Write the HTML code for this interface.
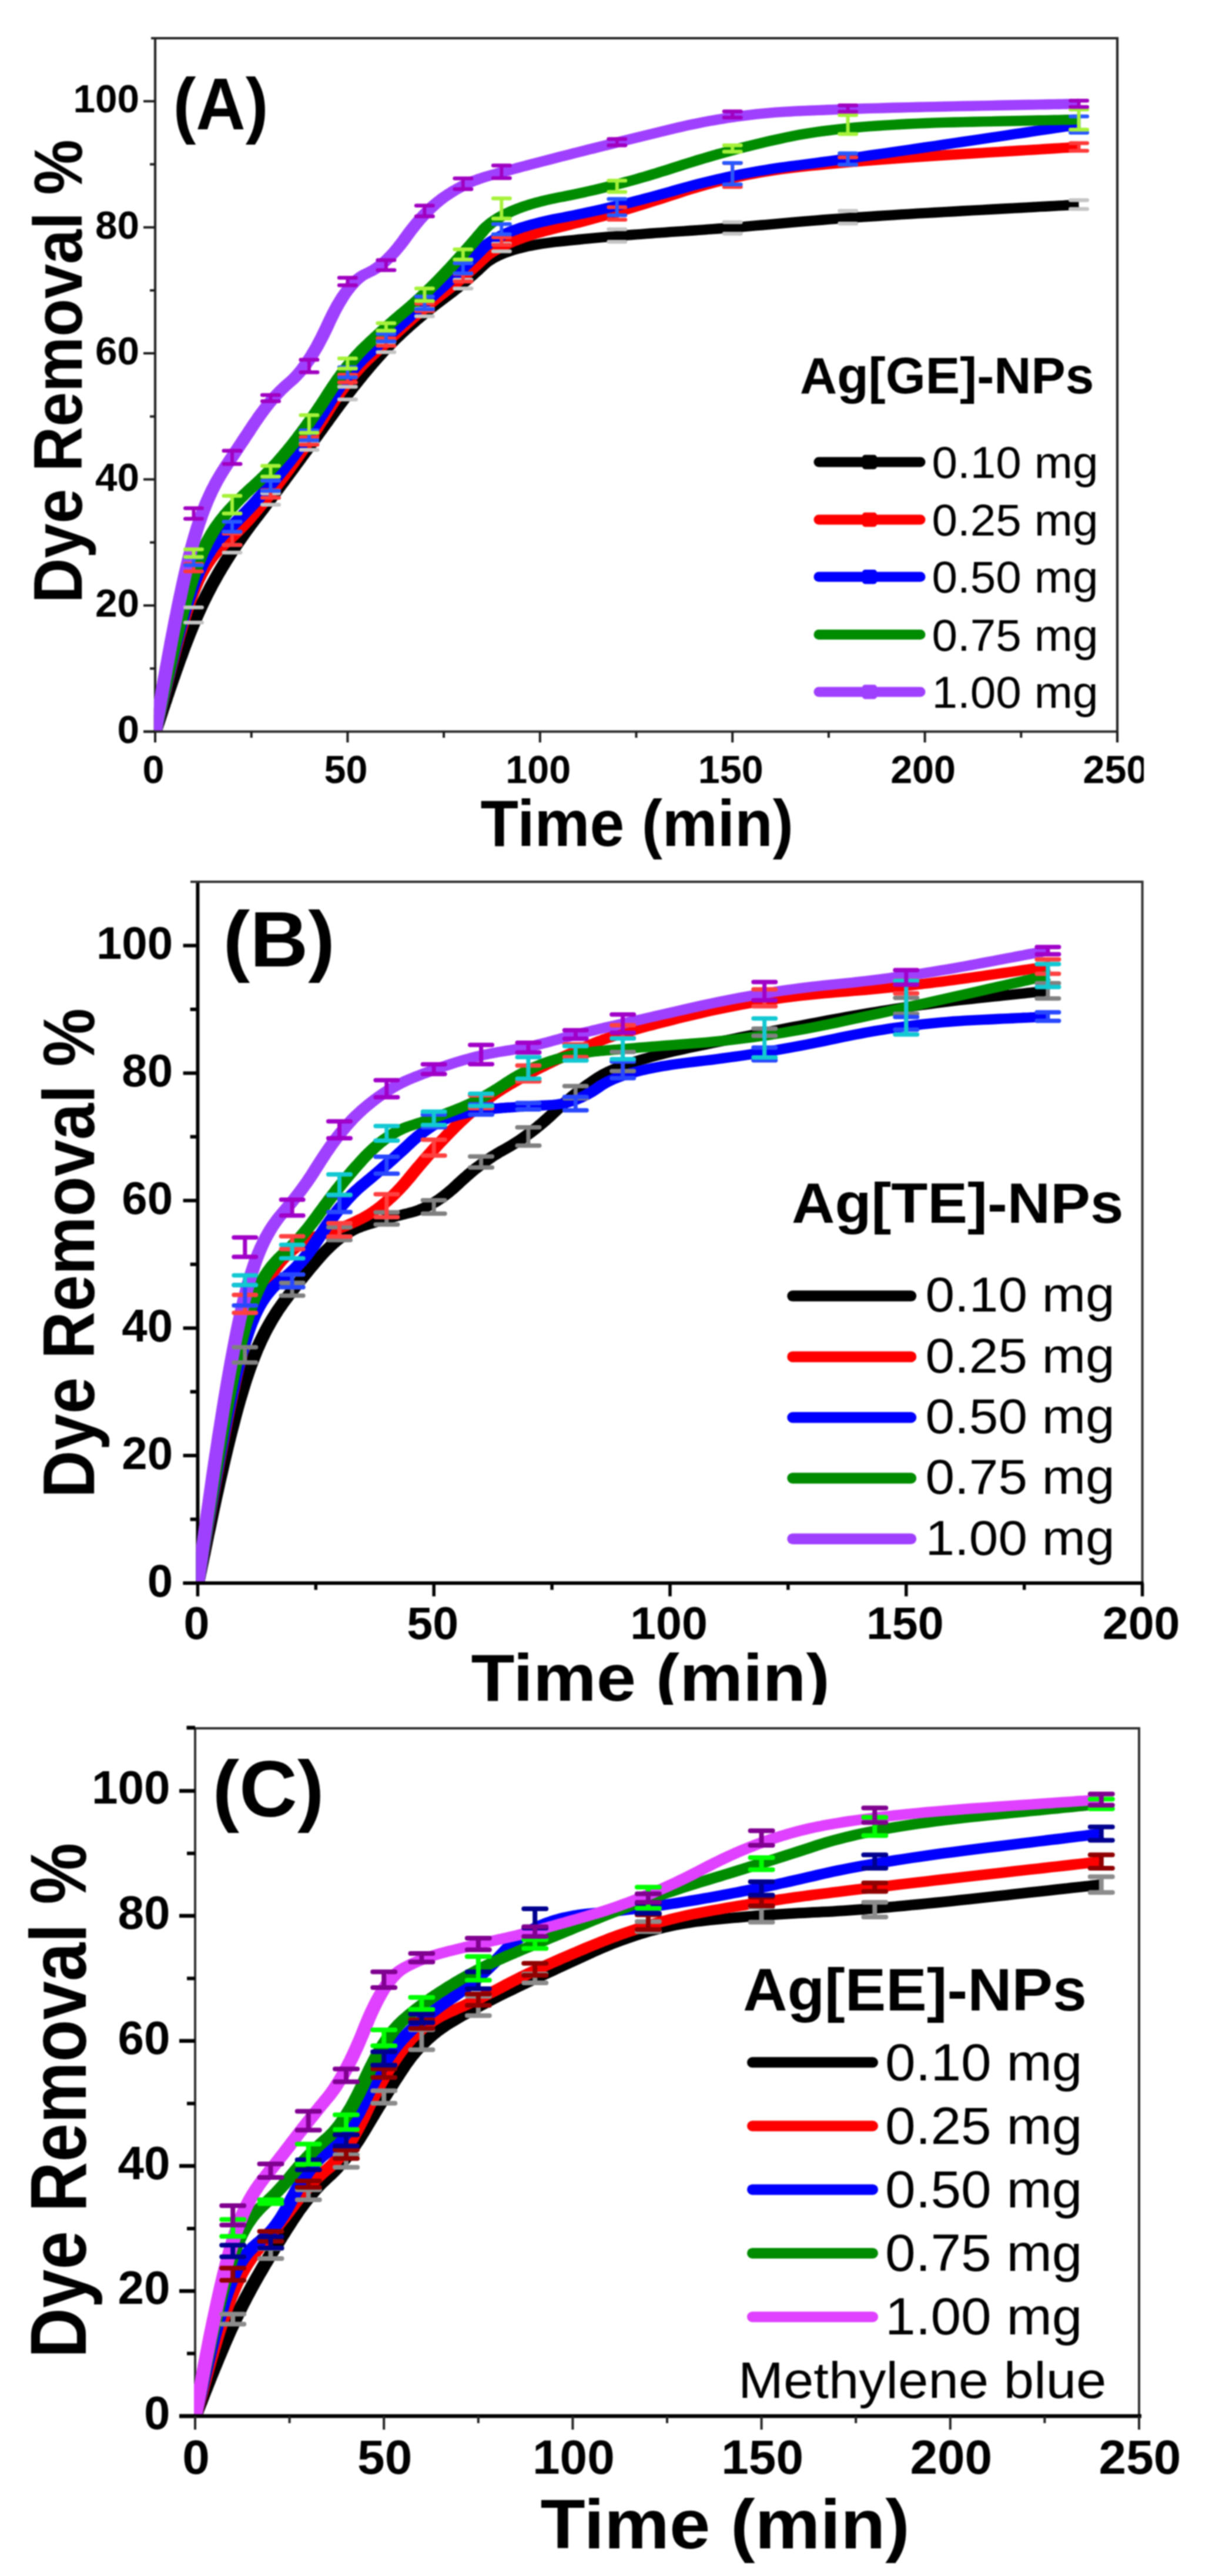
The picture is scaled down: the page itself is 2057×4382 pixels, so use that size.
<!DOCTYPE html>
<html lang="en">
<head>
<meta charset="utf-8">
<title>Dye removal kinetics</title>
<style>
html,body{margin:0;padding:0;background:#fff;}
body{width:2057px;height:4382px;overflow:hidden;}
svg{display:block;font-family:"Liberation Sans",Arial,Helvetica,sans-serif;}
</style>
</head>
<body>
<svg width="2057" height="4382" viewBox="0 0 2057 4382">
<defs>
<filter id="soft" filterUnits="userSpaceOnUse" x="0" y="0" width="2057" height="4382" color-interpolation-filters="sRGB"><feGaussianBlur stdDeviation="1"/></filter>
<clipPath id="clipA"><rect x="0" y="0" width="1945.5" height="1500"/></clipPath>
<clipPath id="plotA"><rect x="261.9" y="65" width="1639.1" height="1179.5"/></clipPath>
<clipPath id="plotB"><rect x="333.4" y="1500" width="1610.2" height="1193"/></clipPath>
<clipPath id="plotC"><rect x="330" y="2940" width="1608" height="1170"/></clipPath>
<clipPath id="clipB"><rect x="0" y="1480" width="2057" height="1420"/></clipPath>
</defs>
<rect x="0" y="0" width="2057" height="4382" fill="#fff"/>
<g filter="url(#soft)">
<g id="panelA">
<path d="M264,65V1244.5" fill="none" stroke="#262626" stroke-width="4.2"/>
<g clip-path="url(#plotA)">
<path transform="scale(1.32,1)" d="M200.0,1244.5 L200.0,1244.5 L200.0,1244.5 L200.0,1244.4 L200.0,1244.3 L200.1,1244.2 L200.1,1244.0 L200.2,1243.7 L200.3,1243.3 L200.4,1242.8 L200.6,1242.1 L200.8,1241.3 L201.0,1240.4 L201.3,1239.2 L201.6,1237.9 L202.0,1236.4 L202.4,1234.7 L202.9,1232.7 L203.5,1230.6 L204.1,1228.1 L204.8,1225.4 L205.5,1222.4 L206.4,1219.0 L207.3,1215.4 L208.3,1211.4 L209.3,1207.1 L210.5,1202.5 L211.7,1197.6 L213.1,1192.4 L214.4,1186.9 L215.9,1181.2 L217.4,1175.2 L219.0,1169.1 L220.6,1162.8 L222.3,1156.3 L224.1,1149.7 L225.8,1143.0 L227.7,1136.1 L229.5,1129.2 L231.4,1122.3 L233.4,1115.3 L235.3,1108.2 L237.3,1101.2 L239.3,1094.3 L241.4,1087.3 L243.4,1080.4 L245.5,1073.7 L247.5,1067.0 L249.6,1060.4 L251.7,1054.0 L253.7,1047.8 L255.8,1041.6 L257.9,1035.7 L259.9,1029.8 L262.0,1024.1 L264.1,1018.5 L266.1,1013.0 L268.2,1007.6 L270.3,1002.4 L272.3,997.2 L274.4,992.2 L276.5,987.3 L278.5,982.4 L280.6,977.6 L282.7,972.9 L284.7,968.3 L286.8,963.8 L288.9,959.3 L290.9,954.9 L293.0,950.6 L295.1,946.3 L297.1,942.1 L299.2,937.9 L301.3,933.8 L303.3,929.7 L305.4,925.6 L307.5,921.6 L309.5,917.7 L311.6,913.8 L313.7,909.9 L315.7,906.1 L317.8,902.3 L319.9,898.6 L321.9,894.9 L324.0,891.3 L326.1,887.7 L328.1,884.2 L330.2,880.6 L332.3,877.0 L334.3,873.4 L336.4,869.9 L338.5,866.3 L340.6,862.7 L342.6,859.1 L344.7,855.5 L346.8,851.9 L348.8,848.3 L350.9,844.7 L353.0,841.0 L355.0,837.4 L357.1,833.8 L359.2,830.1 L361.2,826.4 L363.3,822.8 L365.4,819.1 L367.4,815.4 L369.5,811.7 L371.6,808.0 L373.6,804.3 L375.7,800.6 L377.8,796.9 L379.8,793.2 L381.9,789.5 L384.0,785.7 L386.0,782.0 L388.1,778.3 L390.2,774.5 L392.2,770.8 L394.3,767.1 L396.4,763.3 L398.4,759.6 L400.5,755.8 L402.6,752.1 L404.6,748.3 L406.7,744.5 L408.8,740.8 L410.8,737.0 L412.9,733.2 L415.0,729.4 L417.0,725.6 L419.1,721.8 L421.2,718.1 L423.2,714.3 L425.3,710.5 L427.4,706.7 L429.4,703.0 L431.5,699.2 L433.6,695.6 L435.6,691.9 L437.7,688.2 L439.8,684.6 L441.8,681.0 L443.9,677.4 L446.0,673.8 L448.0,670.3 L450.1,666.8 L452.2,663.3 L454.2,659.8 L456.3,656.4 L458.4,652.9 L460.4,649.5 L462.5,646.1 L464.6,642.8 L466.6,639.4 L468.7,636.1 L470.8,632.8 L472.8,629.6 L474.9,626.3 L477.0,623.1 L479.0,619.9 L481.1,616.8 L483.2,613.7 L485.2,610.6 L487.3,607.5 L489.4,604.5 L491.4,601.6 L493.5,598.6 L495.6,595.7 L497.6,592.8 L499.7,590.0 L501.8,587.2 L503.8,584.4 L505.9,581.7 L508.0,578.9 L510.0,576.3 L512.1,573.6 L514.2,571.0 L516.2,568.4 L518.3,565.9 L520.4,563.4 L522.4,560.9 L524.5,558.5 L526.6,556.0 L528.6,553.6 L530.7,551.2 L532.8,548.9 L534.8,546.5 L536.9,544.2 L539.0,541.9 L541.0,539.6 L543.1,537.3 L545.2,535.0 L547.2,532.8 L549.3,530.6 L551.4,528.3 L553.4,526.2 L555.5,524.0 L557.6,521.8 L559.6,519.7 L561.7,517.6 L563.8,515.5 L565.8,513.4 L567.9,511.4 L570.0,509.3 L572.0,507.3 L574.1,505.3 L576.2,503.2 L578.2,501.2 L580.3,499.1 L582.4,497.0 L584.4,494.8 L586.5,492.6 L588.6,490.5 L590.6,488.2 L592.7,486.0 L594.8,483.7 L596.8,481.4 L598.9,479.1 L601.0,476.8 L603.0,474.4 L605.1,472.0 L607.2,469.6 L609.2,467.2 L611.3,464.7 L613.4,462.3 L615.5,459.8 L617.5,457.2 L619.6,454.7 L621.7,452.1 L623.8,449.5 L626.1,447.1 L628.6,444.6 L631.3,442.3 L634.1,440.0 L637.2,437.8 L640.3,435.7 L643.7,433.7 L647.2,431.7 L650.9,429.8 L654.8,428.0 L658.9,426.2 L663.1,424.5 L667.5,422.9 L672.0,421.4 L676.8,419.9 L681.7,418.5 L686.8,417.2 L692.0,416.0 L697.4,414.8 L703.0,413.7 L708.8,412.7 L714.7,411.7 L720.9,410.8 L727.1,410.0 L733.3,409.1 L739.5,408.3 L745.7,407.5 L751.9,406.7 L758.1,405.9 L764.3,405.2 L770.5,404.4 L776.7,403.7 L782.9,403.0 L789.1,402.3 L795.3,401.6 L801.5,400.9 L807.7,400.2 L813.9,399.5 L820.1,398.9 L826.3,398.3 L832.5,397.6 L838.7,397.0 L844.9,396.4 L851.1,395.9 L857.3,395.3 L863.5,394.7 L869.7,394.2 L875.9,393.6 L882.1,393.1 L888.3,392.5 L894.5,392.0 L900.7,391.4 L906.9,390.8 L913.1,390.2 L919.3,389.6 L925.5,389.0 L931.7,388.4 L937.9,387.7 L944.1,387.1 L950.3,386.4 L956.5,385.8 L962.7,385.1 L968.9,384.4 L975.1,383.7 L981.3,383.0 L987.5,382.3 L993.7,381.6 L999.9,380.9 L1006.1,380.1 L1012.3,379.4 L1018.5,378.6 L1024.8,377.9 L1031.4,377.1 L1038.3,376.3 L1045.4,375.6 L1052.7,374.8 L1060.4,374.0 L1068.2,373.2 L1076.4,372.4 L1084.8,371.6 L1093.4,370.8 L1102.3,369.9 L1111.5,369.1 L1120.9,368.3 L1130.6,367.5 L1140.6,366.6 L1150.8,365.8 L1161.2,364.9 L1172.0,364.1 L1182.9,363.2 L1194.2,362.3 L1205.7,361.5 L1217.4,360.6 L1229.5,359.7 L1241.7,358.8 L1253.9,357.9 L1265.5,357.1 L1276.6,356.3 L1287.2,355.5 L1297.3,354.8 L1306.8,354.1 L1315.9,353.5 L1324.4,352.8 L1332.4,352.3 L1339.9,351.7 L1346.9,351.2 L1353.3,350.8 L1359.3,350.3 L1364.7,349.9 L1369.6,349.6 L1374.0,349.3 L1377.9,349.0 L1381.2,348.8 L1384.1,348.5 L1386.4,348.4 L1388.2,348.2 L1389.5,348.2 L1390.3,348.1 L1390.5,348.1" fill="none" stroke="#000000" stroke-width="17.4" stroke-linejoin="round" stroke-linecap="butt"/>
<path transform="scale(1.32,1)" d="M200.0,1244.5 L200.0,1244.5 L200.0,1244.5 L200.0,1244.4 L200.0,1244.3 L200.1,1244.1 L200.1,1243.8 L200.2,1243.3 L200.3,1242.8 L200.4,1242.0 L200.6,1241.1 L200.8,1240.0 L201.0,1238.7 L201.3,1237.1 L201.6,1235.3 L202.0,1233.2 L202.4,1230.7 L202.9,1228.0 L203.5,1224.9 L204.1,1221.4 L204.8,1217.6 L205.5,1213.4 L206.4,1208.7 L207.3,1203.6 L208.3,1198.0 L209.3,1192.0 L210.5,1185.5 L211.7,1178.6 L213.1,1171.3 L214.4,1163.7 L215.9,1155.8 L217.4,1147.6 L219.0,1139.2 L220.6,1130.6 L222.3,1121.9 L224.1,1113.0 L225.8,1104.1 L227.7,1095.1 L229.5,1086.1 L231.4,1077.2 L233.4,1068.3 L235.3,1059.5 L237.3,1050.9 L239.3,1042.4 L241.4,1034.2 L243.4,1026.2 L245.5,1018.5 L247.5,1011.1 L249.6,1004.1 L251.7,997.5 L253.7,991.3 L255.8,985.4 L257.9,979.9 L259.9,974.7 L262.0,969.8 L264.1,965.2 L266.1,960.8 L268.2,956.7 L270.3,952.9 L272.3,949.2 L274.4,945.8 L276.5,942.5 L278.5,939.4 L280.6,936.4 L282.7,933.5 L284.7,930.8 L286.8,928.1 L288.9,925.5 L290.9,923.0 L293.0,920.5 L295.1,918.0 L297.1,915.5 L299.2,912.9 L301.3,910.4 L303.3,907.7 L305.4,905.0 L307.5,902.3 L309.5,899.5 L311.6,896.7 L313.7,893.8 L315.7,890.9 L317.8,887.9 L319.9,884.8 L321.9,881.8 L324.0,878.6 L326.1,875.4 L328.1,872.2 L330.2,869.0 L332.3,865.7 L334.3,862.4 L336.4,859.1 L338.5,855.8 L340.6,852.4 L342.6,849.0 L344.7,845.6 L346.8,842.1 L348.8,838.6 L350.9,835.1 L353.0,831.6 L355.0,828.1 L357.1,824.5 L359.2,820.9 L361.2,817.3 L363.3,813.7 L365.4,810.1 L367.4,806.4 L369.5,802.7 L371.6,799.0 L373.6,795.2 L375.7,791.5 L377.8,787.7 L379.8,783.8 L381.9,780.0 L384.0,776.1 L386.0,772.2 L388.1,768.3 L390.2,764.3 L392.2,760.3 L394.3,756.3 L396.4,752.2 L398.4,748.2 L400.5,744.1 L402.6,739.9 L404.6,735.8 L406.7,731.6 L408.8,727.4 L410.8,723.1 L412.9,718.9 L415.0,714.6 L417.0,710.2 L419.1,705.9 L421.2,701.5 L423.2,697.1 L425.3,692.7 L427.4,688.4 L429.4,684.2 L431.5,680.0 L433.6,675.9 L435.6,671.9 L437.7,668.0 L439.8,664.2 L441.8,660.4 L443.9,656.7 L446.0,653.1 L448.0,649.5 L450.1,646.1 L452.2,642.7 L454.2,639.3 L456.3,636.1 L458.4,632.9 L460.4,629.9 L462.5,626.8 L464.6,623.9 L466.6,621.0 L468.7,618.3 L470.8,615.6 L472.8,612.9 L474.9,610.3 L477.0,607.8 L479.0,605.2 L481.1,602.6 L483.2,600.0 L485.2,597.5 L487.3,594.9 L489.4,592.4 L491.4,589.8 L493.5,587.3 L495.6,584.8 L497.6,582.2 L499.7,579.7 L501.8,577.2 L503.8,574.7 L505.9,572.2 L508.0,569.7 L510.0,567.2 L512.1,564.7 L514.2,562.2 L516.2,559.7 L518.3,557.3 L520.4,554.8 L522.4,552.3 L524.5,549.9 L526.6,547.5 L528.6,545.0 L530.7,542.6 L532.8,540.2 L534.8,537.9 L536.9,535.5 L539.0,533.2 L541.0,530.8 L543.1,528.5 L545.2,526.2 L547.2,523.9 L549.3,521.7 L551.4,519.4 L553.4,517.2 L555.5,514.9 L557.6,512.7 L559.6,510.5 L561.7,508.3 L563.8,506.2 L565.8,504.0 L567.9,501.9 L570.0,499.8 L572.0,497.7 L574.1,495.6 L576.2,493.4 L578.2,491.3 L580.3,489.1 L582.4,486.9 L584.4,484.7 L586.5,482.5 L588.6,480.2 L590.6,477.9 L592.7,475.6 L594.8,473.3 L596.8,471.0 L598.9,468.6 L601.0,466.3 L603.0,463.9 L605.1,461.4 L607.2,459.0 L609.2,456.5 L611.3,454.1 L613.4,451.6 L615.5,449.0 L617.5,446.5 L619.6,443.9 L621.7,441.4 L623.8,438.8 L626.1,436.2 L628.6,433.7 L631.3,431.2 L634.1,428.7 L637.2,426.3 L640.3,423.9 L643.7,421.5 L647.2,419.1 L650.9,416.8 L654.8,414.4 L658.9,412.1 L663.1,409.9 L667.5,407.6 L672.0,405.4 L676.8,403.2 L681.7,401.1 L686.8,398.9 L692.0,396.8 L697.4,394.8 L703.0,392.7 L708.8,390.7 L714.7,388.7 L720.9,386.7 L727.1,384.7 L733.3,382.7 L739.5,380.6 L745.7,378.6 L751.9,376.5 L758.1,374.3 L764.3,372.1 L770.5,369.9 L776.7,367.7 L782.9,365.4 L789.1,363.1 L795.3,360.8 L801.5,358.5 L807.7,356.1 L813.9,353.6 L820.1,351.2 L826.3,348.7 L832.5,346.2 L838.7,343.6 L844.9,341.0 L851.1,338.4 L857.3,335.8 L863.5,333.1 L869.7,330.4 L875.9,327.7 L882.1,325.1 L888.3,322.5 L894.5,320.1 L900.7,317.7 L906.9,315.3 L913.1,313.1 L919.3,310.9 L925.5,308.8 L931.7,306.8 L937.9,304.8 L944.1,302.9 L950.3,301.1 L956.5,299.3 L962.7,297.7 L968.9,296.1 L975.1,294.5 L981.3,293.1 L987.5,291.7 L993.7,290.4 L999.9,289.2 L1006.1,288.0 L1012.3,286.9 L1018.5,285.9 L1024.8,284.9 L1031.4,283.9 L1038.3,282.9 L1045.4,281.9 L1052.7,281.0 L1060.4,280.0 L1068.2,279.0 L1076.4,278.0 L1084.8,277.0 L1093.4,276.0 L1102.3,275.0 L1111.5,274.0 L1120.9,273.0 L1130.6,272.0 L1140.6,271.0 L1150.8,270.0 L1161.2,269.0 L1172.0,268.0 L1182.9,267.0 L1194.2,266.0 L1205.7,265.0 L1217.4,264.0 L1229.5,263.0 L1241.7,262.0 L1253.9,261.0 L1265.5,260.1 L1276.6,259.2 L1287.2,258.3 L1297.3,257.5 L1306.8,256.8 L1315.9,256.0 L1324.4,255.3 L1332.4,254.7 L1339.9,254.1 L1346.9,253.5 L1353.3,253.0 L1359.3,252.5 L1364.7,252.1 L1369.6,251.7 L1374.0,251.3 L1377.9,251.0 L1381.2,250.7 L1384.1,250.5 L1386.4,250.3 L1388.2,250.2 L1389.5,250.1 L1390.3,250.0 L1390.5,250.0" fill="none" stroke="#ff0000" stroke-width="17.4" stroke-linejoin="round" stroke-linecap="butt"/>
<path transform="scale(1.32,1)" d="M200.0,1244.5 L200.0,1244.5 L200.0,1244.5 L200.0,1244.4 L200.0,1244.3 L200.1,1244.1 L200.1,1243.7 L200.2,1243.3 L200.3,1242.7 L200.4,1242.0 L200.6,1241.0 L200.8,1239.9 L201.0,1238.5 L201.3,1236.8 L201.6,1234.9 L202.0,1232.7 L202.4,1230.2 L202.9,1227.4 L203.5,1224.1 L204.1,1220.6 L204.8,1216.6 L205.5,1212.2 L206.4,1207.3 L207.3,1202.0 L208.3,1196.2 L209.3,1190.0 L210.5,1183.2 L211.7,1176.1 L213.1,1168.5 L214.4,1160.6 L215.9,1152.4 L217.4,1143.9 L219.0,1135.1 L220.6,1126.2 L222.3,1117.1 L224.1,1107.8 L225.8,1098.5 L227.7,1089.1 L229.5,1079.8 L231.4,1070.4 L233.4,1061.1 L235.3,1051.9 L237.3,1042.8 L239.3,1033.9 L241.4,1025.3 L243.4,1016.8 L245.5,1008.7 L247.5,1000.9 L249.6,993.4 L251.7,986.3 L253.7,979.7 L255.8,973.4 L257.9,967.4 L259.9,961.7 L262.0,956.4 L264.1,951.4 L266.1,946.6 L268.2,942.2 L270.3,937.9 L272.3,933.9 L274.4,930.1 L276.5,926.4 L278.5,923.0 L280.6,919.7 L282.7,916.5 L284.7,913.5 L286.8,910.6 L288.9,907.8 L290.9,905.0 L293.0,902.3 L295.1,899.7 L297.1,897.0 L299.2,894.3 L301.3,891.7 L303.3,889.0 L305.4,886.3 L307.5,883.5 L309.5,880.8 L311.6,878.0 L313.7,875.2 L315.7,872.4 L317.8,869.6 L319.9,866.8 L321.9,863.9 L324.0,861.0 L326.1,858.1 L328.1,855.2 L330.2,852.2 L332.3,849.2 L334.3,846.2 L336.4,843.2 L338.5,840.1 L340.6,837.0 L342.6,833.9 L344.7,830.7 L346.8,827.5 L348.8,824.3 L350.9,821.1 L353.0,817.8 L355.0,814.5 L357.1,811.1 L359.2,807.8 L361.2,804.4 L363.3,800.9 L365.4,797.5 L367.4,794.0 L369.5,790.5 L371.6,787.0 L373.6,783.4 L375.7,779.8 L377.8,776.2 L379.8,772.5 L381.9,768.8 L384.0,765.1 L386.0,761.3 L388.1,757.5 L390.2,753.6 L392.2,749.7 L394.3,745.8 L396.4,741.9 L398.4,737.9 L400.5,733.8 L402.6,729.7 L404.6,725.6 L406.7,721.5 L408.8,717.3 L410.8,713.1 L412.9,708.8 L415.0,704.5 L417.0,700.2 L419.1,695.8 L421.2,691.4 L423.2,686.9 L425.3,682.5 L427.4,678.2 L429.4,673.9 L431.5,669.7 L433.6,665.6 L435.6,661.6 L437.7,657.7 L439.8,653.9 L441.8,650.1 L443.9,646.4 L446.0,642.8 L448.0,639.3 L450.1,635.9 L452.2,632.6 L454.2,629.3 L456.3,626.2 L458.4,623.1 L460.4,620.1 L462.5,617.2 L464.6,614.3 L466.6,611.6 L468.7,608.9 L470.8,606.3 L472.8,603.8 L474.9,601.4 L477.0,598.9 L479.0,596.4 L481.1,594.0 L483.2,591.5 L485.2,589.1 L487.3,586.6 L489.4,584.2 L491.4,581.7 L493.5,579.2 L495.6,576.8 L497.6,574.3 L499.7,571.9 L501.8,569.4 L503.8,567.0 L505.9,564.5 L508.0,562.0 L510.0,559.6 L512.1,557.1 L514.2,554.7 L516.2,552.2 L518.3,549.8 L520.4,547.3 L522.4,544.8 L524.5,542.4 L526.6,539.9 L528.6,537.5 L530.7,535.0 L532.8,532.6 L534.8,530.1 L536.9,527.6 L539.0,525.2 L541.0,522.7 L543.1,520.3 L545.2,517.8 L547.2,515.4 L549.3,512.9 L551.4,510.4 L553.4,508.0 L555.5,505.5 L557.6,503.1 L559.6,500.6 L561.7,498.2 L563.8,495.7 L565.8,493.2 L567.9,490.8 L570.0,488.3 L572.0,485.9 L574.1,483.4 L576.2,480.9 L578.2,478.4 L580.3,475.9 L582.4,473.4 L584.4,470.9 L586.5,468.3 L588.6,465.8 L590.6,463.2 L592.7,460.6 L594.8,458.0 L596.8,455.4 L598.9,452.8 L601.0,450.2 L603.0,447.5 L605.1,444.9 L607.2,442.2 L609.2,439.5 L611.3,436.8 L613.4,434.1 L615.5,431.4 L617.5,428.7 L619.6,425.9 L621.7,423.1 L623.8,420.4 L626.1,417.7 L628.6,415.1 L631.3,412.5 L634.1,409.9 L637.2,407.4 L640.3,405.0 L643.7,402.6 L647.2,400.2 L650.9,398.0 L654.8,395.7 L658.9,393.5 L663.1,391.4 L667.5,389.3 L672.0,387.2 L676.8,385.3 L681.7,383.3 L686.8,381.4 L692.0,379.6 L697.4,377.8 L703.0,376.1 L708.8,374.4 L714.7,372.7 L720.9,371.1 L727.1,369.6 L733.3,367.9 L739.5,366.3 L745.7,364.6 L751.9,362.9 L758.1,361.1 L764.3,359.4 L770.5,357.6 L776.7,355.7 L782.9,353.8 L789.1,351.9 L795.3,350.0 L801.5,348.0 L807.7,346.0 L813.9,343.9 L820.1,341.8 L826.3,339.7 L832.5,337.6 L838.7,335.4 L844.9,333.2 L851.1,330.9 L857.3,328.6 L863.5,326.3 L869.7,324.0 L875.9,321.6 L882.1,319.3 L888.3,317.1 L894.5,314.9 L900.7,312.8 L906.9,310.7 L913.1,308.7 L919.3,306.8 L925.5,304.9 L931.7,303.0 L937.9,301.2 L944.1,299.5 L950.3,297.8 L956.5,296.2 L962.7,294.6 L968.9,293.1 L975.1,291.6 L981.3,290.2 L987.5,288.9 L993.7,287.6 L999.9,286.3 L1006.1,285.1 L1012.3,284.0 L1018.5,282.9 L1024.8,281.9 L1031.4,280.7 L1038.3,279.5 L1045.4,278.3 L1052.7,277.0 L1060.4,275.6 L1068.2,274.2 L1076.4,272.7 L1084.8,271.2 L1093.4,269.6 L1102.3,267.9 L1111.5,266.2 L1120.9,264.4 L1130.6,262.6 L1140.6,260.7 L1150.8,258.8 L1161.2,256.8 L1172.0,254.7 L1182.9,252.6 L1194.2,250.4 L1205.7,248.2 L1217.4,245.9 L1229.5,243.5 L1241.7,241.1 L1253.9,238.7 L1265.5,236.5 L1276.6,234.3 L1287.2,232.2 L1297.3,230.2 L1306.8,228.3 L1315.9,226.6 L1324.4,224.9 L1332.4,223.3 L1339.9,221.8 L1346.9,220.5 L1353.3,219.2 L1359.3,218.0 L1364.7,217.0 L1369.6,216.0 L1374.0,215.1 L1377.9,214.4 L1381.2,213.7 L1384.1,213.2 L1386.4,212.7 L1388.2,212.4 L1389.5,212.1 L1390.3,212.0 L1390.5,211.9" fill="none" stroke="#0000ff" stroke-width="17.4" stroke-linejoin="round" stroke-linecap="butt"/>
<path transform="scale(1.32,1)" d="M200.0,1244.5 L200.0,1244.5 L200.0,1244.5 L200.0,1244.4 L200.0,1244.3 L200.1,1244.0 L200.1,1243.7 L200.2,1243.2 L200.3,1242.6 L200.4,1241.8 L200.6,1240.8 L200.8,1239.6 L201.0,1238.2 L201.3,1236.5 L201.6,1234.5 L202.0,1232.2 L202.4,1229.5 L202.9,1226.5 L203.5,1223.2 L204.1,1219.4 L204.8,1215.2 L205.5,1210.6 L206.4,1205.5 L207.3,1200.0 L208.3,1193.9 L209.3,1187.3 L210.5,1180.3 L211.7,1172.8 L213.1,1164.8 L214.4,1156.5 L215.9,1147.9 L217.4,1138.9 L219.0,1129.7 L220.6,1120.3 L222.3,1110.7 L224.1,1100.9 L225.8,1091.1 L227.7,1081.1 L229.5,1071.1 L231.4,1061.2 L233.4,1051.2 L235.3,1041.4 L237.3,1031.7 L239.3,1022.1 L241.4,1012.7 L243.4,1003.5 L245.5,994.7 L247.5,986.1 L249.6,977.9 L251.7,970.0 L253.7,962.5 L255.8,955.4 L257.9,948.6 L259.9,942.2 L262.0,936.0 L264.1,930.2 L266.1,924.6 L268.2,919.3 L270.3,914.3 L272.3,909.5 L274.4,904.9 L276.5,900.5 L278.5,896.4 L280.6,892.4 L282.7,888.6 L284.7,884.9 L286.8,881.4 L288.9,878.0 L290.9,874.7 L293.0,871.6 L295.1,868.5 L297.1,865.5 L299.2,862.5 L301.3,859.6 L303.3,856.7 L305.4,853.8 L307.5,851.0 L309.5,848.3 L311.6,845.6 L313.7,842.9 L315.7,840.2 L317.8,837.6 L319.9,835.1 L321.9,832.5 L324.0,830.1 L326.1,827.6 L328.1,825.2 L330.2,822.7 L332.3,820.2 L334.3,817.6 L336.4,815.1 L338.5,812.4 L340.6,809.8 L342.6,807.1 L344.7,804.3 L346.8,801.5 L348.8,798.7 L350.9,795.8 L353.0,792.9 L355.0,789.9 L357.1,786.9 L359.2,783.9 L361.2,780.8 L363.3,777.7 L365.4,774.5 L367.4,771.3 L369.5,768.1 L371.6,764.8 L373.6,761.4 L375.7,758.1 L377.8,754.7 L379.8,751.2 L381.9,747.7 L384.0,744.2 L386.0,740.6 L388.1,737.0 L390.2,733.4 L392.2,729.7 L394.3,726.0 L396.4,722.2 L398.4,718.4 L400.5,714.6 L402.6,710.7 L404.6,706.8 L406.7,702.8 L408.8,698.8 L410.8,694.8 L412.9,690.7 L415.0,686.6 L417.0,682.5 L419.1,678.3 L421.2,674.0 L423.2,669.8 L425.3,665.5 L427.4,661.3 L429.4,657.2 L431.5,653.2 L433.6,649.2 L435.6,645.3 L437.7,641.5 L439.8,637.7 L441.8,634.0 L443.9,630.4 L446.0,626.9 L448.0,623.4 L450.1,620.0 L452.2,616.6 L454.2,613.4 L456.3,610.2 L458.4,607.1 L460.4,604.0 L462.5,601.0 L464.6,598.1 L466.6,595.3 L468.7,592.5 L470.8,589.8 L472.8,587.2 L474.9,584.6 L477.0,582.0 L479.0,579.5 L481.1,576.9 L483.2,574.4 L485.2,571.9 L487.3,569.4 L489.4,566.9 L491.4,564.4 L493.5,561.9 L495.6,559.5 L497.6,557.0 L499.7,554.6 L501.8,552.2 L503.8,549.8 L505.9,547.4 L508.0,545.0 L510.0,542.7 L512.1,540.3 L514.2,538.0 L516.2,535.7 L518.3,533.3 L520.4,531.0 L522.4,528.8 L524.5,526.5 L526.6,524.2 L528.6,521.8 L530.7,519.5 L532.8,517.1 L534.8,514.7 L536.9,512.2 L539.0,509.8 L541.0,507.3 L543.1,504.8 L545.2,502.2 L547.2,499.7 L549.3,497.1 L551.4,494.5 L553.4,491.9 L555.5,489.2 L557.6,486.5 L559.6,483.8 L561.7,481.1 L563.8,478.3 L565.8,475.6 L567.9,472.8 L570.0,469.9 L572.0,467.1 L574.1,464.2 L576.2,461.3 L578.2,458.4 L580.3,455.5 L582.4,452.6 L584.4,449.6 L586.5,446.7 L588.6,443.7 L590.6,440.7 L592.7,437.7 L594.8,434.6 L596.8,431.6 L598.9,428.5 L601.0,425.4 L603.0,422.3 L605.1,419.2 L607.2,416.1 L609.2,412.9 L611.3,409.7 L613.4,406.6 L615.5,403.4 L617.5,400.1 L619.6,396.9 L621.7,393.7 L623.8,390.4 L626.1,387.3 L628.6,384.2 L631.3,381.2 L634.1,378.2 L637.2,375.4 L640.3,372.6 L643.7,369.8 L647.2,367.2 L650.9,364.6 L654.8,362.1 L658.9,359.6 L663.1,357.2 L667.5,354.9 L672.0,352.7 L676.8,350.5 L681.7,348.4 L686.8,346.4 L692.0,344.5 L697.4,342.6 L703.0,340.8 L708.8,339.0 L714.7,337.3 L720.9,335.7 L727.1,334.2 L733.3,332.5 L739.5,330.8 L745.7,329.1 L751.9,327.3 L758.1,325.5 L764.3,323.7 L770.5,321.7 L776.7,319.8 L782.9,317.8 L789.1,315.7 L795.3,313.6 L801.5,311.5 L807.7,309.3 L813.9,307.1 L820.1,304.8 L826.3,302.4 L832.5,300.1 L838.7,297.6 L844.9,295.2 L851.1,292.6 L857.3,290.1 L863.5,287.5 L869.7,284.8 L875.9,282.2 L882.1,279.5 L888.3,277.0 L894.5,274.4 L900.7,271.9 L906.9,269.5 L913.1,267.1 L919.3,264.7 L925.5,262.3 L931.7,260.1 L937.9,257.8 L944.1,255.6 L950.3,253.4 L956.5,251.3 L962.7,249.2 L968.9,247.2 L975.1,245.2 L981.3,243.2 L987.5,241.3 L993.7,239.4 L999.9,237.6 L1006.1,235.8 L1012.3,234.0 L1018.5,232.3 L1024.8,230.6 L1031.4,229.0 L1038.3,227.4 L1045.4,225.9 L1052.7,224.5 L1060.4,223.1 L1068.2,221.8 L1076.4,220.5 L1084.8,219.3 L1093.4,218.1 L1102.3,217.0 L1111.5,215.9 L1120.9,214.9 L1130.6,214.0 L1140.6,213.1 L1150.8,212.3 L1161.2,211.5 L1172.0,210.8 L1182.9,210.1 L1194.2,209.5 L1205.7,208.9 L1217.4,208.4 L1229.5,208.0 L1241.7,207.6 L1253.9,207.3 L1265.5,206.9 L1276.6,206.6 L1287.2,206.3 L1297.3,206.0 L1306.8,205.7 L1315.9,205.5 L1324.4,205.2 L1332.4,205.0 L1339.9,204.8 L1346.9,204.6 L1353.3,204.4 L1359.3,204.2 L1364.7,204.1 L1369.6,203.9 L1374.0,203.8 L1377.9,203.7 L1381.2,203.6 L1384.1,203.5 L1386.4,203.4 L1388.2,203.4 L1389.5,203.4 L1390.3,203.3 L1390.5,203.3" fill="none" stroke="#008c00" stroke-width="17.4" stroke-linejoin="round" stroke-linecap="butt"/>
<path transform="scale(1.32,1)" d="M200.0,1244.5 L200.0,1244.5 L200.0,1244.5 L200.0,1244.4 L200.0,1244.2 L200.1,1243.9 L200.1,1243.5 L200.2,1243.0 L200.3,1242.2 L200.4,1241.2 L200.6,1240.0 L200.8,1238.5 L201.0,1236.8 L201.3,1234.7 L201.6,1232.2 L202.0,1229.4 L202.4,1226.2 L202.9,1222.5 L203.5,1218.4 L204.1,1213.8 L204.8,1208.7 L205.5,1203.1 L206.4,1196.9 L207.3,1190.1 L208.3,1182.7 L209.3,1174.6 L210.5,1166.0 L211.7,1156.8 L213.1,1147.1 L214.4,1136.9 L215.9,1126.4 L217.4,1115.5 L219.0,1104.2 L220.6,1092.7 L222.3,1081.0 L224.1,1069.1 L225.8,1057.0 L227.7,1044.9 L229.5,1032.7 L231.4,1020.6 L233.4,1008.5 L235.3,996.5 L237.3,984.7 L239.3,973.0 L241.4,961.6 L243.4,950.5 L245.5,939.8 L247.5,929.4 L249.6,919.4 L251.7,909.9 L253.7,900.9 L255.8,892.3 L257.9,884.2 L259.9,876.4 L262.0,869.0 L264.1,862.0 L266.1,855.3 L268.2,848.9 L270.3,842.8 L272.3,837.0 L274.4,831.4 L276.5,826.1 L278.5,820.9 L280.6,816.0 L282.7,811.3 L284.7,806.7 L286.8,802.2 L288.9,797.9 L290.9,793.7 L293.0,789.5 L295.1,785.4 L297.1,781.3 L299.2,777.2 L301.3,773.1 L303.3,769.1 L305.4,765.0 L307.5,760.9 L309.5,756.8 L311.6,752.7 L313.7,748.5 L315.7,744.4 L317.8,740.3 L319.9,736.2 L321.9,732.0 L324.0,727.9 L326.1,723.7 L328.1,719.7 L330.2,715.7 L332.3,711.7 L334.3,707.8 L336.4,704.0 L338.5,700.3 L340.6,696.7 L342.6,693.1 L344.7,689.7 L346.8,686.3 L348.8,683.0 L350.9,679.8 L353.0,676.7 L355.0,673.7 L357.1,670.7 L359.2,667.8 L361.2,665.0 L363.3,662.3 L365.4,659.7 L367.4,657.1 L369.5,654.6 L371.6,652.2 L373.6,649.9 L375.7,647.6 L377.8,645.1 L379.8,642.4 L381.9,639.6 L384.0,636.6 L386.0,633.5 L388.1,630.2 L390.2,626.8 L392.2,623.2 L394.3,619.4 L396.4,615.5 L398.4,611.5 L400.5,607.2 L402.6,602.9 L404.6,598.4 L406.7,593.7 L408.8,588.9 L410.8,583.9 L412.9,578.7 L415.0,573.5 L417.0,568.0 L419.1,562.4 L421.2,556.6 L423.2,550.7 L425.3,544.9 L427.4,539.2 L429.4,533.7 L431.5,528.4 L433.6,523.3 L435.6,518.4 L437.7,513.8 L439.8,509.3 L441.8,505.0 L443.9,500.9 L446.0,497.0 L448.0,493.4 L450.1,489.9 L452.2,486.6 L454.2,483.6 L456.3,480.7 L458.4,478.0 L460.4,475.5 L462.5,473.3 L464.6,471.2 L466.6,469.3 L468.7,467.7 L470.8,466.2 L472.8,465.0 L474.9,463.7 L477.0,462.4 L479.0,461.0 L481.1,459.4 L483.2,457.8 L485.2,456.0 L487.3,454.1 L489.4,452.1 L491.4,450.0 L493.5,447.8 L495.6,445.4 L497.6,443.0 L499.7,440.4 L501.8,437.7 L503.8,435.0 L505.9,432.1 L508.0,429.1 L510.0,426.0 L512.1,422.7 L514.2,419.4 L516.2,415.9 L518.3,412.4 L520.4,408.7 L522.4,404.9 L524.5,401.1 L526.6,397.4 L528.6,393.7 L530.7,390.2 L532.8,386.7 L534.8,383.3 L536.9,380.0 L539.0,376.7 L541.0,373.6 L543.1,370.5 L545.2,367.5 L547.2,364.6 L549.3,361.7 L551.4,359.0 L553.4,356.3 L555.5,353.7 L557.6,351.2 L559.6,348.7 L561.7,346.4 L563.8,344.1 L565.8,341.9 L567.9,339.8 L570.0,337.7 L572.0,335.7 L574.1,333.9 L576.2,332.0 L578.2,330.2 L580.3,328.4 L582.4,326.7 L584.4,325.0 L586.5,323.4 L588.6,321.8 L590.6,320.3 L592.7,318.8 L594.8,317.3 L596.8,315.9 L598.9,314.5 L601.0,313.2 L603.0,312.0 L605.1,310.7 L607.2,309.5 L609.2,308.4 L611.3,307.3 L613.4,306.3 L615.5,305.3 L617.5,304.3 L619.6,303.4 L621.7,302.5 L623.8,301.6 L626.1,300.7 L628.6,299.7 L631.3,298.7 L634.1,297.6 L637.2,296.5 L640.3,295.3 L643.7,294.0 L647.2,292.8 L650.9,291.4 L654.8,290.0 L658.9,288.6 L663.1,287.1 L667.5,285.5 L672.0,283.9 L676.8,282.3 L681.7,280.5 L686.8,278.8 L692.0,277.0 L697.4,275.1 L703.0,273.2 L708.8,271.2 L714.7,269.2 L720.9,267.1 L727.1,265.0 L733.3,262.9 L739.5,260.8 L745.7,258.8 L751.9,256.7 L758.1,254.6 L764.3,252.6 L770.5,250.5 L776.7,248.5 L782.9,246.4 L789.1,244.4 L795.3,242.3 L801.5,240.3 L807.7,238.3 L813.9,236.3 L820.1,234.2 L826.3,232.2 L832.5,230.2 L838.7,228.2 L844.9,226.2 L851.1,224.3 L857.3,222.3 L863.5,220.3 L869.7,218.3 L875.9,216.4 L882.1,214.5 L888.3,212.7 L894.5,211.0 L900.7,209.3 L906.9,207.7 L913.1,206.1 L919.3,204.7 L925.5,203.2 L931.7,201.9 L937.9,200.6 L944.1,199.4 L950.3,198.2 L956.5,197.1 L962.7,196.1 L968.9,195.1 L975.1,194.2 L981.3,193.4 L987.5,192.6 L993.7,191.9 L999.9,191.2 L1006.1,190.6 L1012.3,190.1 L1018.5,189.7 L1024.8,189.2 L1031.4,188.8 L1038.3,188.4 L1045.4,188.0 L1052.7,187.6 L1060.4,187.2 L1068.2,186.8 L1076.4,186.4 L1084.8,186.0 L1093.4,185.6 L1102.3,185.2 L1111.5,184.8 L1120.9,184.4 L1130.6,184.1 L1140.6,183.7 L1150.8,183.3 L1161.2,183.0 L1172.0,182.6 L1182.9,182.3 L1194.2,181.9 L1205.7,181.6 L1217.4,181.2 L1229.5,180.9 L1241.7,180.5 L1253.9,180.2 L1265.5,179.9 L1276.6,179.6 L1287.2,179.3 L1297.3,179.0 L1306.8,178.8 L1315.9,178.5 L1324.4,178.3 L1332.4,178.1 L1339.9,177.9 L1346.9,177.7 L1353.3,177.5 L1359.3,177.4 L1364.7,177.2 L1369.6,177.1 L1374.0,177.0 L1377.9,176.9 L1381.2,176.8 L1384.1,176.7 L1386.4,176.6 L1388.2,176.6 L1389.5,176.5 L1390.3,176.5 L1390.5,176.5" fill="none" stroke="#a040ff" stroke-width="17.4" stroke-linejoin="round" stroke-linecap="butt"/>
<path d="M315.2,1033.3H343.7M315.2,1059.0H343.7M380.7,927.1H409.2M380.7,940.0H409.2M446.2,839.2H474.7M446.2,858.5H474.7M511.7,754.5H540.2M511.7,765.2H540.2M577.1,658.0H605.6M577.1,679.4H605.6M642.6,581.8H671.1M642.6,599.0H671.1M708.1,525.0H736.6M708.1,537.9H736.6M773.6,475.7H802.1M773.6,490.7H802.1M839.1,414.6H867.6M839.1,427.4H867.6M1035.5,389.9H1064.0M1035.5,411.3H1064.0M1232.0,378.1H1260.5M1232.0,397.4H1260.5M1428.4,358.8H1456.9M1428.4,380.2H1456.9M1821.3,340.6H1849.8M1821.3,355.6H1849.8" stroke="#c4c4c4" stroke-width="6.5" fill="none" stroke-linecap="round"/>
<path d="M329.5,959.3V972.1M395.0,907.8V927.1M460.4,833.8V846.7M525.9,743.7V756.6M591.4,637.6V650.5M656.9,575.4V588.3M722.4,516.4V529.3M787.8,466.0V478.9M853.3,403.8V416.7M1049.8,352.4V373.8M1246.2,277.3V318.1M1442.6,267.7V280.5M1835.5,243.5V256.4" stroke="#ff3838" stroke-width="6" fill="none"/>
<path d="M315.2,959.3H343.7M315.2,972.1H343.7M380.7,907.8H409.2M380.7,927.1H409.2M446.2,833.8H474.7M446.2,846.7H474.7M511.7,743.7H540.2M511.7,756.6H540.2M577.1,637.6H605.6M577.1,650.5H605.6M642.6,575.4H671.1M642.6,588.3H671.1M708.1,516.4H736.6M708.1,529.3H736.6M773.6,466.0H802.1M773.6,478.9H802.1M839.1,403.8H867.6M839.1,416.7H867.6M1035.5,352.4H1064.0M1035.5,373.8H1064.0M1232.0,277.3H1260.5M1232.0,318.1H1260.5M1428.4,267.7H1456.9M1428.4,280.5H1456.9M1821.3,243.5H1849.8M1821.3,256.4H1849.8" stroke="#ff3838" stroke-width="6.5" fill="none" stroke-linecap="round"/>
<path d="M329.5,948.6V961.4M395.0,887.4V904.6M460.4,817.7V834.9M525.9,732.0V749.1M591.4,624.7V641.9M656.9,567.9V580.8M722.4,504.6V526.1M787.8,447.8V465.0M853.3,381.3V398.5M1049.8,338.4V366.3M1246.2,277.3V313.8M1442.6,260.7V280.0M1835.5,198.0V225.8" stroke="#2858ff" stroke-width="6" fill="none"/>
<path d="M315.2,948.6H343.7M315.2,961.4H343.7M380.7,887.4H409.2M380.7,904.6H409.2M446.2,817.7H474.7M446.2,834.9H474.7M511.7,732.0H540.2M511.7,749.1H540.2M577.1,624.7H605.6M577.1,641.9H605.6M642.6,567.9H671.1M642.6,580.8H671.1M708.1,504.6H736.6M708.1,526.1H736.6M773.6,447.8H802.1M773.6,465.0H802.1M839.1,381.3H867.6M839.1,398.5H867.6M1035.5,338.4H1064.0M1035.5,366.3H1064.0M1232.0,277.3H1260.5M1232.0,313.8H1260.5M1428.4,260.7H1456.9M1428.4,280.0H1456.9M1821.3,198.0H1849.8M1821.3,225.8H1849.8" stroke="#2858ff" stroke-width="6.5" fill="none" stroke-linecap="round"/>
<path d="M329.5,934.6V947.5M395.0,843.5V873.5M460.4,792.5V810.8M525.9,706.2V736.2M591.4,609.7V626.9M656.9,549.7V562.5M722.4,490.7V512.1M787.8,424.2V441.4M853.3,337.4V371.7M1049.8,307.3V326.6M1246.2,247.3V258.0M1442.6,195.8V228.0M1835.5,186.2V220.5" stroke="#a6f23a" stroke-width="6" fill="none"/>
<path d="M315.2,934.6H343.7M315.2,947.5H343.7M380.7,843.5H409.2M380.7,873.5H409.2M446.2,792.5H474.7M446.2,810.8H474.7M511.7,706.2H540.2M511.7,736.2H540.2M577.1,609.7H605.6M577.1,626.9H605.6M642.6,549.7H671.1M642.6,562.5H671.1M708.1,490.7H736.6M708.1,512.1H736.6M773.6,424.2H802.1M773.6,441.4H802.1M839.1,337.4H867.6M839.1,371.7H867.6M1035.5,307.3H1064.0M1035.5,326.6H1064.0M1232.0,247.3H1260.5M1232.0,258.0H1260.5M1428.4,195.8H1456.9M1428.4,228.0H1456.9M1821.3,186.2H1849.8M1821.3,220.5H1849.8" stroke="#a6f23a" stroke-width="6.5" fill="none" stroke-linecap="round"/>
<path d="M329.5,864.4V882.6M395.0,766.8V789.3M460.4,671.9V682.6M525.9,611.9V633.3M591.4,472.5V485.3M656.9,442.4V459.6M722.4,349.7V367.9M787.8,303.6V321.8M853.3,281.6V303.0M1049.8,236.6V247.3M1246.2,189.4V200.1M1442.6,179.2V189.9M1835.5,171.2V181.9" stroke="#a000c0" stroke-width="6" fill="none"/>
<path d="M315.2,864.4H343.7M315.2,882.6H343.7M380.7,766.8H409.2M380.7,789.3H409.2M446.2,671.9H474.7M446.2,682.6H474.7M511.7,611.9H540.2M511.7,633.3H540.2M577.1,472.5H605.6M577.1,485.3H605.6M642.6,442.4H671.1M642.6,459.6H671.1M708.1,349.7H736.6M708.1,367.9H736.6M773.6,303.6H802.1M773.6,321.8H802.1M839.1,281.6H867.6M839.1,303.0H867.6M1035.5,236.6H1064.0M1035.5,247.3H1064.0M1232.0,189.4H1260.5M1232.0,200.1H1260.5M1428.4,179.2H1456.9M1428.4,189.9H1456.9M1821.3,171.2H1849.8M1821.3,181.9H1849.8" stroke="#a000c0" stroke-width="6.5" fill="none" stroke-linecap="round"/>
</g>
<path d="M257,65H1901V1262.5M244,1244.5H1901" fill="none" stroke="#262626" stroke-width="4.2"/>
<path d="M244,1244.5H264M244,1030.0H264M244,815.6H264M244,601.1H264M244,386.7H264M244,172.2H264M255,1137.3H264M255,922.8H264M255,708.4H264M255,493.9H264M255,279.5H264M264.0,1244.5V1263.0M591.4,1244.5V1263.0M918.8,1244.5V1263.0M1246.2,1244.5V1263.0M1573.6,1244.5V1263.0M1901.0,1244.5V1263.0M427.7,1244.5V1255.0M755.1,1244.5V1255.0M1082.5,1244.5V1255.0M1409.9,1244.5V1255.0M1737.3,1244.5V1255.0" fill="none" stroke="#1c1c1c" stroke-width="4"/>
<text transform="translate(199.47,1263.50) scale(1.0000,1)" font-size="67.50" font-weight="bold" fill="#000">0</text>
<text transform="translate(161.94,1049.05) scale(1.0000,1)" font-size="67.50" font-weight="bold" fill="#000">20</text>
<text transform="translate(161.94,834.59) scale(1.0000,1)" font-size="67.50" font-weight="bold" fill="#000">40</text>
<text transform="translate(161.94,620.14) scale(1.0000,1)" font-size="67.50" font-weight="bold" fill="#000">60</text>
<text transform="translate(161.94,405.68) scale(1.0000,1)" font-size="67.50" font-weight="bold" fill="#000">80</text>
<text transform="translate(124.41,191.23) scale(1.0000,1)" font-size="67.50" font-weight="bold" fill="#000">100</text>
<g clip-path="url(#clipA)">
<text transform="translate(242.51,1332.20) scale(1.0000,1)" font-size="66.50" font-weight="bold" fill="#000">0</text>
<text transform="translate(551.43,1332.20) scale(1.0000,1)" font-size="66.50" font-weight="bold" fill="#000">50</text>
<text transform="translate(860.34,1332.20) scale(1.0000,1)" font-size="66.50" font-weight="bold" fill="#000">100</text>
<text transform="translate(1187.74,1332.20) scale(1.0000,1)" font-size="66.50" font-weight="bold" fill="#000">150</text>
<text transform="translate(1515.14,1332.20) scale(1.0000,1)" font-size="66.50" font-weight="bold" fill="#000">200</text>
<text transform="translate(1842.54,1332.20) scale(1.0000,1)" font-size="66.50" font-weight="bold" fill="#000">250</text>
</g>
<text transform="translate(294.50,219.80) scale(0.9414,1)" font-size="123.98" font-weight="bold" fill="#000">(A)</text>
<text transform="translate(1361.00,669.00) scale(0.9980,1)" font-size="87.65" font-weight="bold" fill="#000">Ag[GE]-NPs</text>
<text transform="translate(817.50,1439.00) scale(0.9444,1)" font-size="111.92" font-weight="bold" fill="#000">Time (min)</text>
<text transform="translate(139.20,1026.00) rotate(-90) scale(0.8996,1)" font-size="117.73" font-weight="bold" fill="#000">Dye Removal %</text>
<path d="M1393,786H1566" stroke="#000000" stroke-width="17" stroke-linecap="round" fill="none"/>
<rect x="1467" y="773.8" width="25" height="24.4" rx="5" fill="#000000"/>
<text transform="translate(1585.50,813.00) scale(1.0200,1)" font-size="76.79" font-weight="normal" fill="#000">0.10 mg</text>
<path d="M1393,884H1566" stroke="#ff0000" stroke-width="17" stroke-linecap="round" fill="none"/>
<rect x="1467" y="871.8" width="25" height="24.4" rx="5" fill="#ff0000"/>
<text transform="translate(1585.50,911.00) scale(1.0200,1)" font-size="76.79" font-weight="normal" fill="#000">0.25 mg</text>
<path d="M1393,981.3H1566" stroke="#0000ff" stroke-width="17" stroke-linecap="round" fill="none"/>
<rect x="1467" y="969.0999999999999" width="25" height="24.4" rx="5" fill="#0000ff"/>
<text transform="translate(1585.50,1008.30) scale(1.0200,1)" font-size="76.79" font-weight="normal" fill="#000">0.50 mg</text>
<path d="M1393,1079.5H1566" stroke="#008c00" stroke-width="17" stroke-linecap="round" fill="none"/>
<text transform="translate(1585.50,1106.50) scale(1.0200,1)" font-size="76.79" font-weight="normal" fill="#000">0.75 mg</text>
<path d="M1393,1177H1566" stroke="#a040ff" stroke-width="17" stroke-linecap="round" fill="none"/>
<rect x="1467" y="1164.8" width="25" height="24.4" rx="5" fill="#a040ff"/>
<text transform="translate(1585.50,1204.00) scale(1.0200,1)" font-size="76.79" font-weight="normal" fill="#000">1.00 mg</text>
</g>
<g id="panelB" clip-path="url(#clipB)">
<path d="M336.4,1498V2693" fill="none" stroke="#000" stroke-width="6"/>
<g clip-path="url(#plotB)">
<path transform="scale(1.32,1)" d="M254.8,2693.0 L254.8,2693.0 L254.9,2693.0 L254.9,2692.9 L254.9,2692.7 L254.9,2692.4 L255.0,2692.0 L255.1,2691.4 L255.2,2690.6 L255.4,2689.6 L255.6,2688.3 L255.8,2686.8 L256.1,2684.9 L256.5,2682.7 L256.9,2680.2 L257.3,2677.2 L257.9,2673.8 L258.5,2670.0 L259.1,2665.7 L259.9,2660.9 L260.7,2655.6 L261.6,2649.6 L262.7,2643.2 L263.8,2636.0 L265.0,2628.3 L266.3,2619.9 L267.7,2610.8 L269.3,2601.2 L270.9,2591.1 L272.6,2580.4 L274.3,2569.4 L276.2,2557.9 L278.1,2546.1 L280.2,2534.0 L282.2,2521.7 L284.4,2509.2 L286.6,2496.5 L288.8,2483.8 L291.1,2471.0 L293.4,2458.2 L295.8,2445.4 L298.2,2432.8 L300.7,2420.2 L303.1,2407.9 L305.6,2395.8 L308.1,2384.0 L310.7,2372.6 L313.2,2361.5 L315.7,2350.8 L318.3,2340.6 L320.8,2330.9 L323.3,2321.7 L325.9,2312.8 L328.4,2304.4 L330.9,2296.3 L333.5,2288.6 L336.0,2281.3 L338.6,2274.2 L341.1,2267.5 L343.6,2261.1 L346.2,2255.0 L348.7,2249.1 L351.2,2243.4 L353.8,2238.0 L356.3,2232.7 L358.8,2227.7 L361.4,2222.8 L363.9,2218.0 L366.5,2213.4 L369.0,2208.9 L371.5,2204.4 L374.1,2200.1 L376.6,2195.7 L379.1,2191.4 L381.7,2187.2 L384.2,2182.9 L386.8,2178.7 L389.3,2174.5 L391.8,2170.4 L394.4,2166.3 L396.9,2162.2 L399.4,2158.2 L402.0,2154.2 L404.5,2150.3 L407.0,2146.3 L409.6,2142.4 L412.1,2138.6 L414.7,2135.0 L417.2,2131.4 L419.7,2127.9 L422.3,2124.6 L424.8,2121.4 L427.3,2118.3 L429.9,2115.3 L432.4,2112.5 L434.9,2109.8 L437.5,2107.2 L440.0,2104.8 L442.6,2102.4 L445.1,2100.2 L447.6,2098.1 L450.2,2096.2 L452.7,2094.3 L455.2,2092.6 L457.8,2090.9 L460.3,2089.4 L462.9,2088.1 L465.4,2086.8 L467.9,2085.7 L470.5,2084.6 L473.0,2083.5 L475.5,2082.5 L478.1,2081.4 L480.6,2080.4 L483.1,2079.4 L485.7,2078.3 L488.2,2077.3 L490.8,2076.4 L493.3,2075.4 L495.8,2074.4 L498.4,2073.5 L500.9,2072.5 L503.4,2071.6 L506.0,2070.7 L508.5,2069.7 L511.0,2068.8 L513.6,2068.0 L516.1,2067.1 L518.7,2066.2 L521.2,2065.4 L523.7,2064.5 L526.3,2063.7 L528.8,2062.9 L531.3,2062.0 L533.9,2061.1 L536.4,2060.0 L538.9,2058.8 L541.5,2057.6 L544.0,2056.2 L546.6,2054.8 L549.1,2053.2 L551.6,2051.6 L554.2,2049.8 L556.7,2048.0 L559.2,2046.0 L561.8,2044.0 L564.3,2041.8 L566.9,2039.6 L569.4,2037.2 L571.9,2034.8 L574.5,2032.2 L577.0,2029.6 L579.5,2026.8 L582.1,2024.0 L584.6,2021.1 L587.1,2018.0 L589.7,2014.9 L592.2,2011.7 L594.8,2008.6 L597.3,2005.6 L599.8,2002.6 L602.4,1999.7 L604.9,1996.8 L607.4,1994.0 L610.0,1991.2 L612.5,1988.5 L615.0,1985.9 L617.6,1983.3 L620.1,1980.8 L622.7,1978.3 L625.2,1975.9 L627.7,1973.6 L630.3,1971.3 L632.8,1969.0 L635.3,1966.8 L637.9,1964.7 L640.4,1962.7 L643.0,1960.6 L645.5,1958.7 L648.0,1956.8 L650.6,1955.0 L653.1,1953.1 L655.6,1951.2 L658.2,1949.3 L660.7,1947.3 L663.2,1945.2 L665.8,1943.1 L668.3,1941.0 L670.9,1938.7 L673.4,1936.4 L675.9,1934.1 L678.5,1931.7 L681.0,1929.3 L683.5,1926.8 L686.1,1924.2 L688.6,1921.6 L691.1,1918.9 L693.7,1916.2 L696.2,1913.4 L698.8,1910.6 L701.3,1907.7 L703.8,1904.8 L706.4,1901.8 L708.9,1898.7 L711.4,1895.6 L714.0,1892.5 L716.5,1889.4 L719.0,1886.3 L721.6,1883.3 L724.1,1880.4 L726.7,1877.5 L729.2,1874.6 L731.7,1871.8 L734.3,1869.0 L736.8,1866.2 L739.3,1863.5 L741.9,1860.8 L744.4,1858.2 L747.0,1855.6 L749.5,1853.0 L752.0,1850.5 L754.6,1848.0 L757.1,1845.6 L759.6,1843.2 L762.2,1840.9 L764.7,1838.6 L767.2,1836.3 L769.8,1834.1 L772.3,1831.9 L775.0,1829.7 L777.8,1827.5 L780.9,1825.4 L784.2,1823.2 L787.6,1821.1 L791.3,1818.9 L795.3,1816.8 L799.4,1814.6 L803.7,1812.5 L808.3,1810.4 L813.0,1808.2 L818.0,1806.1 L823.2,1804.0 L828.5,1801.9 L834.1,1799.8 L840.0,1797.6 L846.0,1795.5 L852.2,1793.4 L858.7,1791.3 L865.3,1789.2 L872.2,1787.2 L879.3,1785.1 L886.6,1783.0 L894.1,1780.9 L901.7,1778.8 L909.3,1776.8 L916.9,1774.7 L924.5,1772.7 L932.1,1770.6 L939.7,1768.6 L947.3,1766.6 L955.0,1764.5 L962.6,1762.5 L970.2,1760.5 L977.8,1758.5 L985.4,1756.6 L993.0,1754.6 L1000.6,1752.6 L1008.2,1750.7 L1015.8,1748.7 L1023.4,1746.8 L1031.1,1744.9 L1038.7,1742.9 L1046.3,1741.0 L1053.9,1739.1 L1061.5,1737.2 L1069.1,1735.3 L1076.7,1733.4 L1084.3,1731.6 L1091.9,1729.8 L1099.5,1728.0 L1107.2,1726.2 L1114.8,1724.5 L1122.4,1722.8 L1130.0,1721.2 L1137.6,1719.5 L1145.2,1717.9 L1152.8,1716.4 L1160.4,1714.9 L1168.0,1713.4 L1175.6,1711.9 L1183.2,1710.5 L1190.9,1709.1 L1198.5,1707.8 L1206.1,1706.5 L1213.7,1705.2 L1221.3,1703.9 L1228.9,1702.7 L1236.5,1701.5 L1244.1,1700.4 L1251.7,1699.3 L1259.3,1698.2 L1266.8,1697.2 L1273.9,1696.2 L1280.8,1695.2 L1287.3,1694.3 L1293.4,1693.4 L1299.3,1692.6 L1304.8,1691.9 L1310.1,1691.1 L1315.0,1690.4 L1319.6,1689.8 L1323.9,1689.2 L1327.8,1688.6 L1331.5,1688.1 L1334.8,1687.7 L1337.8,1687.2 L1340.5,1686.9 L1342.9,1686.5 L1345.0,1686.3 L1346.7,1686.0 L1348.1,1685.8 L1349.2,1685.7 L1350.0,1685.5 L1350.5,1685.5 L1350.7,1685.5" fill="none" stroke="#000000" stroke-width="17.4" stroke-linejoin="round" stroke-linecap="butt"/>
<path transform="scale(1.32,1)" d="M254.8,2693.0 L254.8,2693.0 L254.9,2693.0 L254.9,2692.8 L254.9,2692.6 L254.9,2692.3 L255.0,2691.8 L255.1,2691.0 L255.2,2690.1 L255.4,2688.8 L255.6,2687.3 L255.8,2685.4 L256.1,2683.1 L256.5,2680.4 L256.9,2677.3 L257.3,2673.7 L257.9,2669.5 L258.5,2664.9 L259.1,2659.6 L259.9,2653.7 L260.7,2647.2 L261.6,2640.0 L262.7,2632.0 L263.8,2623.3 L265.0,2613.8 L266.3,2603.5 L267.7,2592.5 L269.3,2580.7 L270.9,2568.3 L272.6,2555.3 L274.3,2541.8 L276.2,2527.8 L278.1,2513.5 L280.2,2498.8 L282.2,2483.8 L284.4,2468.6 L286.6,2453.3 L288.8,2437.9 L291.1,2422.4 L293.4,2407.0 L295.8,2391.7 L298.2,2376.5 L300.7,2361.6 L303.1,2346.9 L305.6,2332.5 L308.1,2318.6 L310.7,2305.1 L313.2,2292.2 L315.7,2279.8 L318.3,2268.0 L320.8,2256.9 L323.3,2246.4 L325.9,2236.5 L328.4,2227.1 L330.9,2218.2 L333.5,2209.9 L336.0,2202.1 L338.6,2194.7 L341.1,2187.9 L343.6,2181.4 L346.2,2175.4 L348.7,2169.7 L351.2,2164.4 L353.8,2159.4 L356.3,2154.7 L358.8,2150.4 L361.4,2146.3 L363.9,2142.5 L366.5,2139.0 L369.0,2135.6 L371.5,2132.5 L374.1,2129.5 L376.6,2126.7 L379.1,2124.0 L381.7,2121.5 L384.2,2119.1 L386.8,2116.8 L389.3,2114.6 L391.8,2112.6 L394.4,2110.7 L396.9,2108.9 L399.4,2107.3 L402.0,2105.8 L404.5,2104.5 L407.0,2103.3 L409.6,2102.3 L412.1,2101.2 L414.7,2100.2 L417.2,2099.1 L419.7,2098.0 L422.3,2096.9 L424.8,2095.8 L427.3,2094.7 L429.9,2093.5 L432.4,2092.3 L434.9,2091.0 L437.5,2089.7 L440.0,2088.4 L442.6,2087.0 L445.1,2085.6 L447.6,2084.2 L450.2,2082.7 L452.7,2081.2 L455.2,2079.7 L457.8,2078.2 L460.3,2076.6 L462.9,2074.9 L465.4,2073.3 L467.9,2071.6 L470.5,2069.8 L473.0,2067.9 L475.5,2066.0 L478.1,2063.9 L480.6,2061.7 L483.1,2059.5 L485.7,2057.1 L488.2,2054.6 L490.8,2052.1 L493.3,2049.4 L495.8,2046.6 L498.4,2043.8 L500.9,2040.8 L503.4,2037.7 L506.0,2034.6 L508.5,2031.3 L511.0,2027.9 L513.6,2024.5 L516.1,2020.9 L518.7,2017.3 L521.2,2013.5 L523.7,2009.6 L526.3,2005.7 L528.8,2001.6 L531.3,1997.5 L533.9,1993.4 L536.4,1989.4 L538.9,1985.4 L541.5,1981.5 L544.0,1977.6 L546.6,1973.7 L549.1,1969.8 L551.6,1966.0 L554.2,1962.3 L556.7,1958.5 L559.2,1954.8 L561.8,1951.2 L564.3,1947.5 L566.9,1943.9 L569.4,1940.4 L571.9,1936.9 L574.5,1933.4 L577.0,1929.9 L579.5,1926.5 L582.1,1923.1 L584.6,1919.8 L587.1,1916.5 L589.7,1913.2 L592.2,1910.0 L594.8,1906.8 L597.3,1903.7 L599.8,1900.6 L602.4,1897.6 L604.9,1894.6 L607.4,1891.7 L610.0,1888.8 L612.5,1886.0 L615.0,1883.3 L617.6,1880.6 L620.1,1877.9 L622.7,1875.3 L625.2,1872.7 L627.7,1870.2 L630.3,1867.8 L632.8,1865.4 L635.3,1863.0 L637.9,1860.7 L640.4,1858.5 L643.0,1856.3 L645.5,1854.2 L648.0,1852.1 L650.6,1850.0 L653.1,1848.0 L655.6,1846.0 L658.2,1844.1 L660.7,1842.1 L663.2,1840.2 L665.8,1838.3 L668.3,1836.4 L670.9,1834.5 L673.4,1832.6 L675.9,1830.8 L678.5,1828.9 L681.0,1827.1 L683.5,1825.3 L686.1,1823.5 L688.6,1821.8 L691.1,1820.0 L693.7,1818.3 L696.2,1816.6 L698.8,1814.9 L701.3,1813.2 L703.8,1811.5 L706.4,1809.9 L708.9,1808.3 L711.4,1806.7 L714.0,1805.1 L716.5,1803.5 L719.0,1801.9 L721.6,1800.3 L724.1,1798.8 L726.7,1797.2 L729.2,1795.7 L731.7,1794.2 L734.3,1792.6 L736.8,1791.1 L739.3,1789.6 L741.9,1788.2 L744.4,1786.7 L747.0,1785.2 L749.5,1783.8 L752.0,1782.3 L754.6,1780.9 L757.1,1779.5 L759.6,1778.0 L762.2,1776.6 L764.7,1775.3 L767.2,1773.9 L769.8,1772.5 L772.3,1771.1 L775.0,1769.8 L777.8,1768.3 L780.9,1766.9 L784.2,1765.4 L787.6,1763.8 L791.3,1762.2 L795.3,1760.6 L799.4,1758.9 L803.7,1757.2 L808.3,1755.4 L813.0,1753.6 L818.0,1751.8 L823.2,1749.9 L828.5,1747.9 L834.1,1745.9 L840.0,1743.9 L846.0,1741.8 L852.2,1739.7 L858.7,1737.6 L865.3,1735.4 L872.2,1733.1 L879.3,1730.8 L886.6,1728.5 L894.1,1726.1 L901.7,1723.8 L909.3,1721.5 L916.9,1719.2 L924.5,1717.1 L932.1,1715.0 L939.7,1713.0 L947.3,1711.0 L955.0,1709.1 L962.6,1707.3 L970.2,1705.6 L977.8,1703.9 L985.4,1702.3 L993.0,1700.7 L1000.6,1699.2 L1008.2,1697.8 L1015.8,1696.5 L1023.4,1695.2 L1031.1,1694.0 L1038.7,1692.9 L1046.3,1691.8 L1053.9,1690.8 L1061.5,1689.8 L1069.1,1689.0 L1076.7,1688.2 L1084.3,1687.4 L1091.9,1686.6 L1099.5,1685.7 L1107.2,1684.9 L1114.8,1684.0 L1122.4,1683.1 L1130.0,1682.1 L1137.6,1681.1 L1145.2,1680.1 L1152.8,1679.1 L1160.4,1678.0 L1168.0,1676.9 L1175.6,1675.8 L1183.2,1674.6 L1190.9,1673.5 L1198.5,1672.3 L1206.1,1671.0 L1213.7,1669.8 L1221.3,1668.5 L1228.9,1667.2 L1236.5,1665.8 L1244.1,1664.4 L1251.7,1663.0 L1259.3,1661.6 L1266.8,1660.2 L1273.9,1658.8 L1280.8,1657.5 L1287.3,1656.3 L1293.4,1655.1 L1299.3,1654.0 L1304.8,1653.0 L1310.1,1652.0 L1315.0,1651.0 L1319.6,1650.1 L1323.9,1649.3 L1327.8,1648.6 L1331.5,1647.9 L1334.8,1647.3 L1337.8,1646.7 L1340.5,1646.2 L1342.9,1645.7 L1345.0,1645.3 L1346.7,1645.0 L1348.1,1644.7 L1349.2,1644.5 L1350.0,1644.4 L1350.5,1644.3 L1350.7,1644.2" fill="none" stroke="#ff0000" stroke-width="17.4" stroke-linejoin="round" stroke-linecap="butt"/>
<path transform="scale(1.32,1)" d="M254.8,2693.0 L254.8,2693.0 L254.9,2693.0 L254.9,2692.8 L254.9,2692.6 L254.9,2692.3 L255.0,2691.7 L255.1,2691.0 L255.2,2690.0 L255.4,2688.7 L255.6,2687.1 L255.8,2685.1 L256.1,2682.8 L256.5,2680.0 L256.9,2676.8 L257.3,2673.1 L257.9,2668.8 L258.5,2664.0 L259.1,2658.6 L259.9,2652.5 L260.7,2645.8 L261.6,2638.3 L262.7,2630.1 L263.8,2621.2 L265.0,2611.4 L266.3,2600.8 L267.7,2589.4 L269.3,2577.3 L270.9,2564.5 L272.6,2551.2 L274.3,2537.4 L276.2,2523.1 L278.1,2508.5 L280.2,2493.5 L282.2,2478.4 L284.4,2463.1 L286.6,2447.7 L288.8,2432.2 L291.1,2416.8 L293.4,2401.6 L295.8,2386.5 L298.2,2371.7 L300.7,2357.2 L303.1,2343.1 L305.6,2329.4 L308.1,2316.3 L310.7,2303.8 L313.2,2292.0 L315.7,2280.9 L318.3,2270.6 L320.8,2261.0 L323.3,2252.2 L325.9,2244.1 L328.4,2236.6 L330.9,2229.7 L333.5,2223.3 L336.0,2217.5 L338.6,2212.2 L341.1,2207.3 L343.6,2202.8 L346.2,2198.6 L348.7,2194.7 L351.2,2191.1 L353.8,2187.8 L356.3,2184.7 L358.8,2181.7 L361.4,2178.9 L363.9,2176.2 L366.5,2173.6 L369.0,2170.9 L371.5,2168.1 L374.1,2165.3 L376.6,2162.3 L379.1,2159.1 L381.7,2155.8 L384.2,2152.3 L386.8,2148.6 L389.3,2144.8 L391.8,2140.8 L394.4,2136.6 L396.9,2132.3 L399.4,2127.8 L402.0,2123.1 L404.5,2118.2 L407.0,2113.1 L409.6,2107.9 L412.1,2102.7 L414.7,2097.6 L417.2,2092.6 L419.7,2087.6 L422.3,2082.7 L424.8,2078.0 L427.3,2073.3 L429.9,2068.8 L432.4,2064.4 L434.9,2060.1 L437.5,2055.9 L440.0,2051.9 L442.6,2047.9 L445.1,2044.1 L447.6,2040.4 L450.2,2036.8 L452.7,2033.3 L455.2,2030.0 L457.8,2026.7 L460.3,2023.6 L462.9,2020.6 L465.4,2017.7 L467.9,2014.9 L470.5,2012.1 L473.0,2009.4 L475.5,2006.6 L478.1,2003.8 L480.6,2001.0 L483.1,1998.2 L485.7,1995.3 L488.2,1992.5 L490.8,1989.6 L493.3,1986.7 L495.8,1983.8 L498.4,1980.9 L500.9,1977.9 L503.4,1975.0 L506.0,1972.0 L508.5,1969.0 L511.0,1966.0 L513.6,1962.9 L516.1,1959.9 L518.7,1956.8 L521.2,1953.7 L523.7,1950.6 L526.3,1947.5 L528.8,1944.4 L531.3,1941.3 L533.9,1938.3 L536.4,1935.4 L538.9,1932.6 L541.5,1929.9 L544.0,1927.3 L546.6,1924.8 L549.1,1922.4 L551.6,1920.1 L554.2,1917.8 L556.7,1915.7 L559.2,1913.7 L561.8,1911.8 L564.3,1909.9 L566.9,1908.2 L569.4,1906.6 L571.9,1905.0 L574.5,1903.6 L577.0,1902.2 L579.5,1901.0 L582.1,1899.8 L584.6,1898.8 L587.1,1897.8 L589.7,1896.9 L592.2,1896.1 L594.8,1895.4 L597.3,1894.6 L599.8,1893.9 L602.4,1893.2 L604.9,1892.5 L607.4,1891.8 L610.0,1891.2 L612.5,1890.6 L615.0,1890.0 L617.6,1889.5 L620.1,1888.9 L622.7,1888.4 L625.2,1888.0 L627.7,1887.5 L630.3,1887.1 L632.8,1886.7 L635.3,1886.3 L637.9,1885.9 L640.4,1885.6 L643.0,1885.3 L645.5,1885.0 L648.0,1884.7 L650.6,1884.5 L653.1,1884.2 L655.6,1884.0 L658.2,1883.8 L660.7,1883.6 L663.2,1883.4 L665.8,1883.1 L668.3,1882.9 L670.9,1882.7 L673.4,1882.5 L675.9,1882.3 L678.5,1882.1 L681.0,1881.9 L683.5,1881.7 L686.1,1881.5 L688.6,1881.3 L691.1,1881.1 L693.7,1880.9 L696.2,1880.7 L698.8,1880.5 L701.3,1880.3 L703.8,1880.1 L706.4,1880.0 L708.9,1879.8 L711.4,1879.6 L714.0,1879.4 L716.5,1879.0 L719.0,1878.6 L721.6,1878.1 L724.1,1877.5 L726.7,1876.8 L729.2,1876.1 L731.7,1875.2 L734.3,1874.2 L736.8,1873.2 L739.3,1872.0 L741.9,1870.8 L744.4,1869.4 L747.0,1868.0 L749.5,1866.5 L752.0,1864.9 L754.6,1863.2 L757.1,1861.4 L759.6,1859.5 L762.2,1857.5 L764.7,1855.5 L767.2,1853.3 L769.8,1851.0 L772.3,1848.7 L775.0,1846.3 L777.8,1844.0 L780.9,1841.7 L784.2,1839.5 L787.6,1837.4 L791.3,1835.3 L795.3,1833.2 L799.4,1831.2 L803.7,1829.3 L808.3,1827.4 L813.0,1825.5 L818.0,1823.7 L823.2,1822.0 L828.5,1820.3 L834.1,1818.7 L840.0,1817.1 L846.0,1815.6 L852.2,1814.1 L858.7,1812.7 L865.3,1811.3 L872.2,1810.0 L879.3,1808.7 L886.6,1807.5 L894.1,1806.4 L901.7,1805.2 L909.3,1804.0 L916.9,1802.8 L924.5,1801.5 L932.1,1800.2 L939.7,1798.8 L947.3,1797.4 L955.0,1796.0 L962.6,1794.5 L970.2,1792.9 L977.8,1791.3 L985.4,1789.7 L993.0,1788.0 L1000.6,1786.3 L1008.2,1784.6 L1015.8,1782.8 L1023.4,1780.9 L1031.1,1779.0 L1038.7,1777.1 L1046.3,1775.1 L1053.9,1773.1 L1061.5,1771.0 L1069.1,1768.9 L1076.7,1766.8 L1084.3,1764.7 L1091.9,1762.6 L1099.5,1760.6 L1107.2,1758.7 L1114.8,1756.8 L1122.4,1755.1 L1130.0,1753.3 L1137.6,1751.7 L1145.2,1750.1 L1152.8,1748.6 L1160.4,1747.2 L1168.0,1745.9 L1175.6,1744.6 L1183.2,1743.4 L1190.9,1742.2 L1198.5,1741.1 L1206.1,1740.1 L1213.7,1739.2 L1221.3,1738.3 L1228.9,1737.5 L1236.5,1736.8 L1244.1,1736.2 L1251.7,1735.6 L1259.3,1735.1 L1266.8,1734.6 L1273.9,1734.2 L1280.8,1733.7 L1287.3,1733.3 L1293.4,1732.9 L1299.3,1732.6 L1304.8,1732.2 L1310.1,1731.9 L1315.0,1731.6 L1319.6,1731.3 L1323.9,1731.1 L1327.8,1730.8 L1331.5,1730.6 L1334.8,1730.4 L1337.8,1730.2 L1340.5,1730.0 L1342.9,1729.9 L1345.0,1729.7 L1346.7,1729.6 L1348.1,1729.5 L1349.2,1729.5 L1350.0,1729.4 L1350.5,1729.4 L1350.7,1729.4" fill="none" stroke="#0000ff" stroke-width="17.4" stroke-linejoin="round" stroke-linecap="butt"/>
<path transform="scale(1.32,1)" d="M254.8,2693.0 L254.8,2693.0 L254.9,2693.0 L254.9,2692.8 L254.9,2692.6 L254.9,2692.2 L255.0,2691.7 L255.1,2690.9 L255.2,2689.8 L255.4,2688.5 L255.6,2686.8 L255.8,2684.7 L256.1,2682.3 L256.5,2679.4 L256.9,2676.0 L257.3,2672.0 L257.9,2667.6 L258.5,2662.5 L259.1,2656.8 L259.9,2650.4 L260.7,2643.3 L261.6,2635.5 L262.7,2626.9 L263.8,2617.4 L265.0,2607.1 L266.3,2596.0 L267.7,2584.0 L269.3,2571.2 L270.9,2557.8 L272.6,2543.8 L274.3,2529.2 L276.2,2514.2 L278.1,2498.7 L280.2,2483.0 L282.2,2466.9 L284.4,2450.7 L286.6,2434.4 L288.8,2418.0 L291.1,2401.7 L293.4,2385.5 L295.8,2369.4 L298.2,2353.6 L300.7,2338.1 L303.1,2323.0 L305.6,2308.3 L308.1,2294.1 L310.7,2280.6 L313.2,2267.7 L315.7,2255.6 L318.3,2244.2 L320.8,2233.6 L323.3,2223.8 L325.9,2214.6 L328.4,2206.1 L330.9,2198.3 L333.5,2191.0 L336.0,2184.2 L338.6,2177.9 L341.1,2172.1 L343.6,2166.8 L346.2,2161.8 L348.7,2157.2 L351.2,2152.8 L353.8,2148.8 L356.3,2145.0 L358.8,2141.4 L361.4,2138.0 L363.9,2134.7 L366.5,2131.5 L369.0,2128.4 L371.5,2125.3 L374.1,2122.1 L376.6,2118.9 L379.1,2115.6 L381.7,2112.1 L384.2,2108.6 L386.8,2104.9 L389.3,2101.2 L391.8,2097.3 L394.4,2093.3 L396.9,2089.3 L399.4,2085.1 L402.0,2080.8 L404.5,2076.4 L407.0,2071.9 L409.6,2067.3 L412.1,2062.7 L414.7,2058.1 L417.2,2053.6 L419.7,2049.0 L422.3,2044.5 L424.8,2040.1 L427.3,2035.7 L429.9,2031.3 L432.4,2027.0 L434.9,2022.7 L437.5,2018.5 L440.0,2014.3 L442.6,2010.2 L445.1,2006.1 L447.6,2002.1 L450.2,1998.1 L452.7,1994.2 L455.2,1990.3 L457.8,1986.4 L460.3,1982.6 L462.9,1978.9 L465.4,1975.2 L467.9,1971.5 L470.5,1967.9 L473.0,1964.4 L475.5,1961.1 L478.1,1957.8 L480.6,1954.7 L483.1,1951.6 L485.7,1948.7 L488.2,1945.8 L490.8,1943.1 L493.3,1940.5 L495.8,1938.0 L498.4,1935.6 L500.9,1933.3 L503.4,1931.1 L506.0,1929.0 L508.5,1927.0 L511.0,1925.2 L513.6,1923.4 L516.1,1921.8 L518.7,1920.2 L521.2,1918.8 L523.7,1917.4 L526.3,1916.2 L528.8,1915.1 L531.3,1914.0 L533.9,1913.0 L536.4,1911.9 L538.9,1910.8 L541.5,1909.7 L544.0,1908.6 L546.6,1907.4 L549.1,1906.3 L551.6,1905.1 L554.2,1904.0 L556.7,1902.8 L559.2,1901.6 L561.8,1900.4 L564.3,1899.2 L566.9,1898.0 L569.4,1896.8 L571.9,1895.6 L574.5,1894.3 L577.0,1893.1 L579.5,1891.8 L582.1,1890.5 L584.6,1889.2 L587.1,1887.9 L589.7,1886.6 L592.2,1885.3 L594.8,1883.9 L597.3,1882.5 L599.8,1881.1 L602.4,1879.6 L604.9,1878.1 L607.4,1876.5 L610.0,1874.9 L612.5,1873.2 L615.0,1871.6 L617.6,1869.8 L620.1,1868.1 L622.7,1866.3 L625.2,1864.4 L627.7,1862.5 L630.3,1860.6 L632.8,1858.6 L635.3,1856.6 L637.9,1854.6 L640.4,1852.5 L643.0,1850.4 L645.5,1848.2 L648.0,1846.0 L650.6,1843.8 L653.1,1841.6 L655.6,1839.4 L658.2,1837.3 L660.7,1835.2 L663.2,1833.1 L665.8,1831.2 L668.3,1829.2 L670.9,1827.4 L673.4,1825.5 L675.9,1823.7 L678.5,1822.0 L681.0,1820.3 L683.5,1818.7 L686.1,1817.2 L688.6,1815.6 L691.1,1814.2 L693.7,1812.7 L696.2,1811.4 L698.8,1810.0 L701.3,1808.8 L703.8,1807.6 L706.4,1806.4 L708.9,1805.3 L711.4,1804.2 L714.0,1803.2 L716.5,1802.2 L719.0,1801.2 L721.6,1800.3 L724.1,1799.4 L726.7,1798.5 L729.2,1797.7 L731.7,1796.9 L734.3,1796.1 L736.8,1795.3 L739.3,1794.6 L741.9,1793.9 L744.4,1793.2 L747.0,1792.6 L749.5,1792.0 L752.0,1791.4 L754.6,1790.9 L757.1,1790.4 L759.6,1789.9 L762.2,1789.5 L764.7,1789.0 L767.2,1788.6 L769.8,1788.3 L772.3,1787.9 L775.0,1787.6 L777.8,1787.3 L780.9,1786.9 L784.2,1786.5 L787.6,1786.1 L791.3,1785.7 L795.3,1785.3 L799.4,1784.8 L803.7,1784.3 L808.3,1783.8 L813.0,1783.3 L818.0,1782.8 L823.2,1782.2 L828.5,1781.7 L834.1,1781.1 L840.0,1780.5 L846.0,1779.8 L852.2,1779.2 L858.7,1778.5 L865.3,1777.9 L872.2,1777.2 L879.3,1776.4 L886.6,1775.7 L894.1,1774.9 L901.7,1774.1 L909.3,1773.3 L916.9,1772.4 L924.5,1771.4 L932.1,1770.4 L939.7,1769.3 L947.3,1768.1 L955.0,1766.9 L962.6,1765.7 L970.2,1764.4 L977.8,1763.0 L985.4,1761.6 L993.0,1760.1 L1000.6,1758.5 L1008.2,1756.9 L1015.8,1755.3 L1023.4,1753.6 L1031.1,1751.8 L1038.7,1750.0 L1046.3,1748.1 L1053.9,1746.1 L1061.5,1744.1 L1069.1,1742.1 L1076.7,1740.0 L1084.3,1737.8 L1091.9,1735.7 L1099.5,1733.5 L1107.2,1731.3 L1114.8,1729.2 L1122.4,1727.0 L1130.0,1724.8 L1137.6,1722.6 L1145.2,1720.4 L1152.8,1718.2 L1160.4,1716.0 L1168.0,1713.8 L1175.6,1711.6 L1183.2,1709.4 L1190.9,1707.1 L1198.5,1704.9 L1206.1,1702.6 L1213.7,1700.4 L1221.3,1698.2 L1228.9,1695.9 L1236.5,1693.6 L1244.1,1691.4 L1251.7,1689.1 L1259.3,1686.8 L1266.8,1684.6 L1273.9,1682.4 L1280.8,1680.4 L1287.3,1678.4 L1293.4,1676.6 L1299.3,1674.8 L1304.8,1673.2 L1310.1,1671.6 L1315.0,1670.1 L1319.6,1668.7 L1323.9,1667.5 L1327.8,1666.3 L1331.5,1665.2 L1334.8,1664.2 L1337.8,1663.3 L1340.5,1662.5 L1342.9,1661.8 L1345.0,1661.1 L1346.7,1660.6 L1348.1,1660.2 L1349.2,1659.9 L1350.0,1659.6 L1350.5,1659.5 L1350.7,1659.4" fill="none" stroke="#008c00" stroke-width="17.4" stroke-linejoin="round" stroke-linecap="butt"/>
<path transform="scale(1.32,1)" d="M254.8,2693.0 L254.8,2693.0 L254.9,2692.9 L254.9,2692.8 L254.9,2692.6 L254.9,2692.1 L255.0,2691.5 L255.1,2690.6 L255.2,2689.5 L255.4,2688.0 L255.6,2686.1 L255.8,2683.8 L256.1,2681.1 L256.5,2677.9 L256.9,2674.1 L257.3,2669.7 L257.9,2664.8 L258.5,2659.1 L259.1,2652.8 L259.9,2645.7 L260.7,2637.9 L261.6,2629.2 L262.7,2619.6 L263.8,2609.2 L265.0,2597.7 L266.3,2585.4 L267.7,2572.0 L269.3,2557.9 L270.9,2543.0 L272.6,2527.4 L274.3,2511.2 L276.2,2494.5 L278.1,2477.4 L280.2,2459.8 L282.2,2442.0 L284.4,2424.0 L286.6,2405.8 L288.8,2387.6 L291.1,2369.4 L293.4,2351.3 L295.8,2333.3 L298.2,2315.7 L300.7,2298.3 L303.1,2281.4 L305.6,2264.9 L308.1,2249.0 L310.7,2233.8 L313.2,2219.2 L315.7,2205.5 L318.3,2192.6 L320.8,2180.6 L323.3,2169.3 L325.9,2158.8 L328.4,2149.0 L330.9,2139.9 L333.5,2131.4 L336.0,2123.5 L338.6,2116.2 L341.1,2109.3 L343.6,2102.9 L346.2,2097.0 L348.7,2091.4 L351.2,2086.1 L353.8,2081.2 L356.3,2076.5 L358.8,2072.1 L361.4,2067.8 L363.9,2063.8 L366.5,2059.8 L369.0,2055.9 L371.5,2052.0 L374.1,2048.1 L376.6,2044.1 L379.1,2039.9 L381.7,2035.7 L384.2,2031.4 L386.8,2027.0 L389.3,2022.5 L391.8,2017.9 L394.4,2013.2 L396.9,2008.4 L399.4,2003.5 L402.0,1998.5 L404.5,1993.3 L407.0,1988.0 L409.6,1982.7 L412.1,1977.4 L414.7,1972.2 L417.2,1967.1 L419.7,1962.0 L422.3,1957.1 L424.8,1952.2 L427.3,1947.5 L429.9,1942.9 L432.4,1938.4 L434.9,1934.0 L437.5,1929.7 L440.0,1925.5 L442.6,1921.5 L445.1,1917.5 L447.6,1913.7 L450.2,1910.0 L452.7,1906.3 L455.2,1902.8 L457.8,1899.4 L460.3,1896.1 L462.9,1893.0 L465.4,1889.9 L467.9,1886.9 L470.5,1884.0 L473.0,1881.2 L475.5,1878.5 L478.1,1875.8 L480.6,1873.1 L483.1,1870.6 L485.7,1868.1 L488.2,1865.6 L490.8,1863.3 L493.3,1861.0 L495.8,1858.7 L498.4,1856.5 L500.9,1854.4 L503.4,1852.4 L506.0,1850.4 L508.5,1848.5 L511.0,1846.6 L513.6,1844.8 L516.1,1843.1 L518.7,1841.4 L521.2,1839.8 L523.7,1838.3 L526.3,1836.8 L528.8,1835.4 L531.3,1834.0 L533.9,1832.7 L536.4,1831.3 L538.9,1830.0 L541.5,1828.7 L544.0,1827.4 L546.6,1826.1 L549.1,1824.8 L551.6,1823.6 L554.2,1822.3 L556.7,1821.1 L559.2,1819.9 L561.8,1818.7 L564.3,1817.5 L566.9,1816.3 L569.4,1815.2 L571.9,1814.0 L574.5,1812.9 L577.0,1811.8 L579.5,1810.7 L582.1,1809.6 L584.6,1808.5 L587.1,1807.4 L589.7,1806.4 L592.2,1805.4 L594.8,1804.4 L597.3,1803.4 L599.8,1802.4 L602.4,1801.5 L604.9,1800.6 L607.4,1799.7 L610.0,1798.8 L612.5,1797.9 L615.0,1797.1 L617.6,1796.3 L620.1,1795.5 L622.7,1794.8 L625.2,1794.0 L627.7,1793.3 L630.3,1792.6 L632.8,1792.0 L635.3,1791.3 L637.9,1790.7 L640.4,1790.1 L643.0,1789.5 L645.5,1789.0 L648.0,1788.5 L650.6,1787.9 L653.1,1787.4 L655.6,1786.9 L658.2,1786.4 L660.7,1785.8 L663.2,1785.2 L665.8,1784.6 L668.3,1784.0 L670.9,1783.4 L673.4,1782.7 L675.9,1782.1 L678.5,1781.4 L681.0,1780.7 L683.5,1780.0 L686.1,1779.2 L688.6,1778.5 L691.1,1777.7 L693.7,1776.9 L696.2,1776.1 L698.8,1775.3 L701.3,1774.4 L703.8,1773.6 L706.4,1772.7 L708.9,1771.8 L711.4,1770.9 L714.0,1769.9 L716.5,1769.0 L719.0,1768.1 L721.6,1767.2 L724.1,1766.3 L726.7,1765.4 L729.2,1764.5 L731.7,1763.7 L734.3,1762.8 L736.8,1761.9 L739.3,1761.1 L741.9,1760.2 L744.4,1759.4 L747.0,1758.5 L749.5,1757.7 L752.0,1756.9 L754.6,1756.1 L757.1,1755.3 L759.6,1754.5 L762.2,1753.7 L764.7,1752.9 L767.2,1752.1 L769.8,1751.3 L772.3,1750.5 L775.0,1749.7 L777.8,1748.9 L780.9,1747.9 L784.2,1746.9 L787.6,1745.9 L791.3,1744.8 L795.3,1743.6 L799.4,1742.3 L803.7,1741.0 L808.3,1739.6 L813.0,1738.2 L818.0,1736.7 L823.2,1735.1 L828.5,1733.5 L834.1,1731.8 L840.0,1730.0 L846.0,1728.2 L852.2,1726.3 L858.7,1724.4 L865.3,1722.4 L872.2,1720.3 L879.3,1718.1 L886.6,1715.9 L894.1,1713.7 L901.7,1711.4 L909.3,1709.2 L916.9,1707.0 L924.5,1704.9 L932.1,1702.8 L939.7,1700.8 L947.3,1698.9 L955.0,1697.0 L962.6,1695.2 L970.2,1693.4 L977.8,1691.7 L985.4,1690.0 L993.0,1688.4 L1000.6,1686.8 L1008.2,1685.3 L1015.8,1683.9 L1023.4,1682.5 L1031.1,1681.2 L1038.7,1679.9 L1046.3,1678.7 L1053.9,1677.5 L1061.5,1676.4 L1069.1,1675.3 L1076.7,1674.3 L1084.3,1673.3 L1091.9,1672.3 L1099.5,1671.3 L1107.2,1670.1 L1114.8,1669.0 L1122.4,1667.8 L1130.0,1666.6 L1137.6,1665.3 L1145.2,1664.0 L1152.8,1662.7 L1160.4,1661.3 L1168.0,1659.9 L1175.6,1658.4 L1183.2,1657.0 L1190.9,1655.4 L1198.5,1653.9 L1206.1,1652.2 L1213.7,1650.6 L1221.3,1648.9 L1228.9,1647.2 L1236.5,1645.4 L1244.1,1643.6 L1251.7,1641.8 L1259.3,1639.9 L1266.8,1638.0 L1273.9,1636.3 L1280.8,1634.6 L1287.3,1632.9 L1293.4,1631.4 L1299.3,1629.9 L1304.8,1628.6 L1310.1,1627.3 L1315.0,1626.0 L1319.6,1624.9 L1323.9,1623.8 L1327.8,1622.8 L1331.5,1621.9 L1334.8,1621.1 L1337.8,1620.3 L1340.5,1619.7 L1342.9,1619.1 L1345.0,1618.6 L1346.7,1618.1 L1348.1,1617.8 L1349.2,1617.5 L1350.0,1617.3 L1350.5,1617.2 L1350.7,1617.1" fill="none" stroke="#a040ff" stroke-width="17.4" stroke-linejoin="round" stroke-linecap="butt"/>
<path d="M416.8,2291.7V2317.7M497.1,2182.2V2203.9M577.5,2087.8V2109.5M657.8,2062.3V2082.9M738.2,2041.7V2064.5M818.6,1967.3V1986.0M898.9,1917.8V1948.8M979.3,1847.6V1868.2M1059.6,1789.6V1822.1M1300.7,1749.8V1762.1M1541.8,1697.5V1724.4M1782.9,1672.4V1698.5" stroke="#808080" stroke-width="7" fill="none"/>
<path d="M398.0,2291.7H435.5M398.0,2317.7H435.5M478.4,2182.2H515.9M478.4,2203.9H515.9M558.7,2087.8H596.2M558.7,2109.5H596.2M639.1,2062.3H676.6M639.1,2082.9H676.6M719.4,2041.7H756.9M719.4,2064.5H756.9M799.8,1967.3H837.3M799.8,1986.0H837.3M880.2,1917.8H917.7M880.2,1948.8H917.7M960.5,1847.6H998.0M960.5,1868.2H998.0M1040.9,1789.6H1078.4M1040.9,1822.1H1078.4M1282.0,1749.8H1319.5M1282.0,1762.1H1319.5M1523.0,1697.5H1560.5M1523.0,1724.4H1560.5M1764.1,1672.4H1801.6M1764.1,1698.5H1801.6" stroke="#808080" stroke-width="7.5" fill="none" stroke-linecap="round"/>
<path d="M416.8,2202.8V2233.2M497.1,2103.0V2124.7M577.5,2080.8V2103.5M657.8,2031.4V2070.5M738.2,1938.8V1965.7M818.6,1863.3V1885.0M898.9,1812.5V1839.4M979.3,1776.6V1798.2M1059.6,1744.0V1765.7M1300.7,1683.0V1711.8M1541.8,1668.1V1689.8M1782.9,1631.9V1656.6" stroke="#ff4040" stroke-width="7" fill="none"/>
<path d="M398.0,2202.8H435.5M398.0,2233.2H435.5M478.4,2103.0H515.9M478.4,2124.7H515.9M558.7,2080.8H596.2M558.7,2103.5H596.2M639.1,2031.4H676.6M639.1,2070.5H676.6M719.4,1938.8H756.9M719.4,1965.7H756.9M799.8,1863.3H837.3M799.8,1885.0H837.3M880.2,1812.5H917.7M880.2,1839.4H917.7M960.5,1776.6H998.0M960.5,1798.2H998.0M1040.9,1744.0H1078.4M1040.9,1765.7H1078.4M1282.0,1683.0H1319.5M1282.0,1711.8H1319.5M1523.0,1668.1H1560.5M1523.0,1689.8H1560.5M1764.1,1631.9H1801.6M1764.1,1656.6H1801.6" stroke="#ff4040" stroke-width="7.5" fill="none" stroke-linecap="round"/>
<path d="M416.8,2186.0V2220.7M497.1,2168.1V2189.8M577.5,2033.6V2061.8M657.8,1967.7V1996.5M738.2,1895.9V1917.5M818.6,1878.5V1895.9M898.9,1876.3V1887.2M979.3,1866.0V1888.8M1059.6,1805.8V1834.0M1300.7,1782.0V1803.7M1541.8,1729.9V1751.6M1782.9,1722.1V1736.6" stroke="#2848ff" stroke-width="7" fill="none"/>
<path d="M398.0,2186.0H435.5M398.0,2220.7H435.5M478.4,2168.1H515.9M478.4,2189.8H515.9M558.7,2033.6H596.2M558.7,2061.8H596.2M639.1,1967.7H676.6M639.1,1996.5H676.6M719.4,1895.9H756.9M719.4,1917.5H756.9M799.8,1878.5H837.3M799.8,1895.9H837.3M880.2,1876.3H917.7M880.2,1887.2H917.7M960.5,1866.0H998.0M960.5,1888.8H998.0M1040.9,1805.8H1078.4M1040.9,1834.0H1078.4M1282.0,1782.0H1319.5M1282.0,1803.7H1319.5M1523.0,1729.9H1560.5M1523.0,1751.6H1560.5M1764.1,1722.1H1801.6M1764.1,1736.6H1801.6" stroke="#2848ff" stroke-width="7.5" fill="none" stroke-linecap="round"/>
<path d="M416.8,2169.6V2186.1M497.1,2117.6V2140.4M577.5,1997.8V2032.5M657.8,1915.5V1940.2M738.2,1891.0V1913.8M818.6,1860.6V1881.2M898.9,1798.2V1835.1M979.3,1779.4V1804.1M1059.6,1766.6V1801.7M1300.7,1732.6V1798.8M1541.8,1668.6V1759.7M1782.9,1639.9V1678.9" stroke="#12c8d2" stroke-width="7" fill="none"/>
<path d="M398.0,2169.6H435.5M398.0,2186.1H435.5M478.4,2117.6H515.9M478.4,2140.4H515.9M558.7,1997.8H596.2M558.7,2032.5H596.2M639.1,1915.5H676.6M639.1,1940.2H676.6M719.4,1891.0H756.9M719.4,1913.8H756.9M799.8,1860.6H837.3M799.8,1881.2H837.3M880.2,1798.2H917.7M880.2,1835.1H917.7M960.5,1779.4H998.0M960.5,1804.1H998.0M1040.9,1766.6H1078.4M1040.9,1801.7H1078.4M1282.0,1732.6H1319.5M1282.0,1798.8H1319.5M1523.0,1668.6H1560.5M1523.0,1759.7H1560.5M1764.1,1639.9H1801.6M1764.1,1678.9H1801.6" stroke="#12c8d2" stroke-width="7.5" fill="none" stroke-linecap="round"/>
<path d="M416.8,2105.0V2137.9M497.1,2040.8V2067.7M577.5,1907.5V1936.3M657.8,1837.5V1866.4M738.2,1810.6V1827.1M818.6,1777.6V1810.2M898.9,1773.7V1790.2M979.3,1752.5V1767.0M1059.6,1725.8V1756.8M1300.7,1670.5V1701.5M1541.8,1650.3V1675.0M1782.9,1610.9V1623.3" stroke="#a000c8" stroke-width="7" fill="none"/>
<path d="M398.0,2105.0H435.5M398.0,2137.9H435.5M478.4,2040.8H515.9M478.4,2067.7H515.9M558.7,1907.5H596.2M558.7,1936.3H596.2M639.1,1837.5H676.6M639.1,1866.4H676.6M719.4,1810.6H756.9M719.4,1827.1H756.9M799.8,1777.6H837.3M799.8,1810.2H837.3M880.2,1773.7H917.7M880.2,1790.2H917.7M960.5,1752.5H998.0M960.5,1767.0H998.0M1040.9,1725.8H1078.4M1040.9,1756.8H1078.4M1282.0,1670.5H1319.5M1282.0,1701.5H1319.5M1523.0,1650.3H1560.5M1523.0,1675.0H1560.5M1764.1,1610.9H1801.6M1764.1,1623.3H1801.6" stroke="#a000c8" stroke-width="7.5" fill="none" stroke-linecap="round"/>
</g>
<path d="M324,1500H1943.6V2693" fill="none" stroke="#303030" stroke-width="4"/>
<path d="M311.6,2693H1945.6" fill="none" stroke="#000" stroke-width="6"/>
<path d="M311.6,2693.0H336.4M311.6,2476.1H336.4M311.6,2259.2H336.4M311.6,2042.3H336.4M311.6,1825.4H336.4M311.6,1608.5H336.4M323.6,2584.5H336.4M323.6,2367.6H336.4M323.6,2150.7H336.4M323.6,1933.8H336.4M323.6,1716.9H336.4" fill="none" stroke="#000" stroke-width="6"/>
<path d="M336.4,2693V2715.5M738.2,2693V2715.5M1140.0,2693V2715.5M1541.8,2693V2715.5M1943.6,2693V2715.5M537.3,2693V2704.5M939.1,2693V2704.5M1340.9,2693V2704.5M1742.7,2693V2704.5" fill="none" stroke="#000" stroke-width="5.5"/>
<text transform="translate(250.63,2715.50) scale(1.0000,1)" font-size="78.00" font-weight="bold" fill="#000">0</text>
<text transform="translate(207.26,2498.59) scale(1.0000,1)" font-size="78.00" font-weight="bold" fill="#000">20</text>
<text transform="translate(207.26,2281.68) scale(1.0000,1)" font-size="78.00" font-weight="bold" fill="#000">40</text>
<text transform="translate(207.26,2064.77) scale(1.0000,1)" font-size="78.00" font-weight="bold" fill="#000">60</text>
<text transform="translate(207.26,1847.86) scale(1.0000,1)" font-size="78.00" font-weight="bold" fill="#000">80</text>
<text transform="translate(163.90,1630.95) scale(1.0000,1)" font-size="78.00" font-weight="bold" fill="#000">100</text>
<text transform="translate(312.46,2788.30) scale(1.0250,1)" font-size="77.00" font-weight="bold" fill="#000">0</text>
<text transform="translate(692.32,2788.30) scale(1.0250,1)" font-size="77.00" font-weight="bold" fill="#000">50</text>
<text transform="translate(1072.18,2788.30) scale(1.0250,1)" font-size="77.00" font-weight="bold" fill="#000">100</text>
<text transform="translate(1473.98,2788.30) scale(1.0250,1)" font-size="77.00" font-weight="bold" fill="#000">150</text>
<text transform="translate(1875.78,2788.30) scale(1.0250,1)" font-size="77.00" font-weight="bold" fill="#000">200</text>
<text transform="translate(379.50,1644.00) scale(1.0331,1)" font-size="132.85" font-weight="bold" fill="#000">(B)</text>
<text transform="translate(1347.00,2080.00) scale(1.0513,1)" font-size="96.66" font-weight="bold" fill="#000">Ag[TE]-NPs</text>
<text transform="translate(801.50,2893.00) scale(1.0730,1)" font-size="112.94" font-weight="bold" fill="#000">Time (min)</text>
<text transform="translate(160.10,2548.00) rotate(-90) scale(0.9010,1)" font-size="124.13" font-weight="bold" fill="#000">Dye Removal %</text>
<path d="M1348.5,2204.6H1550" stroke="#000000" stroke-width="18.5" stroke-linecap="round" fill="none"/>
<text transform="translate(1574.50,2231.30) scale(1.0652,1)" font-size="83.67" font-weight="normal" fill="#000">0.10 mg</text>
<path d="M1348.5,2307.9H1550" stroke="#ff0000" stroke-width="18.5" stroke-linecap="round" fill="none"/>
<text transform="translate(1574.50,2334.60) scale(1.0652,1)" font-size="83.67" font-weight="normal" fill="#000">0.25 mg</text>
<path d="M1348.5,2411.2H1550" stroke="#0000ff" stroke-width="18.5" stroke-linecap="round" fill="none"/>
<text transform="translate(1574.50,2437.90) scale(1.0652,1)" font-size="83.67" font-weight="normal" fill="#000">0.50 mg</text>
<path d="M1348.5,2514.5H1550" stroke="#008c00" stroke-width="18.5" stroke-linecap="round" fill="none"/>
<text transform="translate(1574.50,2541.20) scale(1.0652,1)" font-size="83.67" font-weight="normal" fill="#000">0.75 mg</text>
<path d="M1348.5,2617.8H1550" stroke="#a040ff" stroke-width="18.5" stroke-linecap="round" fill="none"/>
<text transform="translate(1574.50,2644.50) scale(1.0652,1)" font-size="83.67" font-weight="normal" fill="#000">1.00 mg</text>
</g>
<g id="panelC">
<rect x="0" y="2900" width="2057" height="30" fill="#fff"/>
<path d="M332,2940V4110" fill="none" stroke="#303030" stroke-width="4"/>
<g clip-path="url(#plotC)">
<path transform="scale(1.32,1)" d="M251.5,4110.0 L251.5,4110.0 L251.5,4110.0 L251.5,4109.9 L251.6,4109.9 L251.6,4109.8 L251.6,4109.6 L251.7,4109.3 L251.8,4109.0 L251.9,4108.6 L252.1,4108.0 L252.3,4107.4 L252.5,4106.6 L252.8,4105.6 L253.1,4104.5 L253.5,4103.3 L253.9,4101.9 L254.4,4100.2 L254.9,4098.4 L255.5,4096.4 L256.2,4094.1 L256.9,4091.6 L257.8,4088.8 L258.7,4085.8 L259.6,4082.5 L260.7,4078.9 L261.8,4075.1 L263.0,4071.0 L264.3,4066.7 L265.7,4062.1 L267.1,4057.3 L268.6,4052.4 L270.1,4047.2 L271.7,4041.9 L273.4,4036.5 L275.1,4030.9 L276.9,4025.2 L278.7,4019.5 L280.5,4013.6 L282.4,4007.7 L284.3,4001.7 L286.2,3995.7 L288.1,3989.7 L290.1,3983.6 L292.1,3977.6 L294.1,3971.6 L296.1,3965.7 L298.2,3959.8 L300.2,3954.0 L302.2,3948.3 L304.2,3942.7 L306.3,3937.1 L308.3,3931.7 L310.3,3926.3 L312.3,3921.0 L314.4,3915.8 L316.4,3910.6 L318.4,3905.5 L320.5,3900.5 L322.5,3895.5 L324.5,3890.6 L326.5,3885.8 L328.6,3881.0 L330.6,3876.3 L332.6,3871.6 L334.7,3866.9 L336.7,3862.3 L338.7,3857.7 L340.7,3853.2 L342.8,3848.7 L344.8,3844.2 L346.8,3839.7 L348.8,3835.3 L350.9,3830.9 L352.9,3826.5 L354.9,3822.1 L357.0,3817.7 L359.0,3813.4 L361.0,3809.1 L363.0,3804.8 L365.1,3800.6 L367.1,3796.3 L369.1,3792.1 L371.2,3787.9 L373.2,3783.8 L375.2,3779.6 L377.2,3775.5 L379.3,3771.5 L381.3,3767.6 L383.3,3763.7 L385.3,3759.9 L387.4,3756.2 L389.4,3752.6 L391.4,3749.0 L393.5,3745.5 L395.5,3742.1 L397.5,3738.8 L399.5,3735.5 L401.6,3732.4 L403.6,3729.3 L405.6,3726.3 L407.7,3723.3 L409.7,3720.4 L411.7,3717.6 L413.7,3714.9 L415.8,3712.3 L417.8,3709.7 L419.8,3707.2 L421.8,3704.8 L423.9,3702.3 L425.9,3699.8 L427.9,3697.2 L430.0,3694.5 L432.0,3691.7 L434.0,3688.8 L436.0,3685.8 L438.1,3682.7 L440.1,3679.6 L442.1,3676.3 L444.2,3673.0 L446.2,3669.6 L448.2,3666.1 L450.2,3662.5 L452.3,3658.8 L454.3,3655.0 L456.3,3651.1 L458.3,3647.2 L460.4,3643.1 L462.4,3639.0 L464.4,3634.7 L466.5,3630.4 L468.5,3626.0 L470.5,3621.5 L472.5,3617.0 L474.6,3612.5 L476.6,3608.0 L478.6,3603.5 L480.7,3599.1 L482.7,3594.6 L484.7,3590.2 L486.7,3585.8 L488.8,3581.5 L490.8,3577.1 L492.8,3572.8 L494.8,3568.5 L496.9,3564.2 L498.9,3559.9 L500.9,3555.7 L503.0,3551.4 L505.0,3547.2 L507.0,3543.0 L509.0,3538.9 L511.1,3534.7 L513.1,3530.6 L515.1,3526.5 L517.2,3522.4 L519.2,3518.4 L521.2,3514.3 L523.3,3510.4 L525.5,3506.5 L527.6,3502.7 L529.8,3498.9 L532.1,3495.3 L534.4,3491.7 L536.8,3488.1 L539.1,3484.7 L541.6,3481.3 L544.0,3477.9 L546.6,3474.7 L549.1,3471.5 L551.7,3468.4 L554.4,3465.3 L557.0,3462.3 L559.8,3459.4 L562.5,3456.6 L565.3,3453.8 L568.2,3451.1 L571.1,3448.5 L574.0,3445.9 L577.0,3443.4 L580.0,3441.0 L583.1,3438.6 L586.1,3436.2 L589.1,3433.9 L592.2,3431.5 L595.2,3429.2 L598.3,3426.9 L601.3,3424.7 L604.3,3422.4 L607.4,3420.2 L610.4,3418.0 L613.5,3415.8 L616.5,3413.6 L619.6,3411.4 L622.6,3409.3 L625.6,3407.2 L628.7,3405.0 L631.7,3403.0 L634.8,3400.9 L637.8,3398.8 L640.8,3396.8 L643.9,3394.8 L646.9,3392.8 L650.0,3390.8 L653.0,3388.9 L656.1,3386.9 L659.4,3384.8 L662.7,3382.7 L666.2,3380.5 L669.8,3378.2 L673.5,3375.9 L677.4,3373.4 L681.4,3371.0 L685.5,3368.4 L689.8,3365.8 L694.1,3363.0 L698.6,3360.3 L703.3,3357.4 L708.0,3354.5 L712.9,3351.5 L717.9,3348.4 L723.0,3345.3 L728.3,3342.1 L733.7,3338.8 L739.2,3335.5 L744.8,3332.0 L750.6,3328.5 L756.5,3325.0 L762.5,3321.3 L768.6,3317.7 L774.7,3314.2 L780.8,3310.8 L786.8,3307.5 L792.9,3304.4 L799.0,3301.4 L805.1,3298.5 L811.2,3295.7 L817.3,3293.0 L823.3,3290.4 L829.4,3288.0 L835.5,3285.7 L841.6,3283.5 L847.7,3281.4 L853.8,3279.4 L859.8,3277.6 L865.9,3275.9 L872.0,3274.2 L878.1,3272.8 L884.2,3271.4 L890.3,3270.1 L896.3,3269.0 L902.4,3268.0 L908.5,3267.1 L914.6,3266.2 L920.7,3265.4 L926.8,3264.6 L932.8,3263.9 L938.9,3263.1 L945.0,3262.4 L951.1,3261.7 L957.2,3261.0 L963.3,3260.3 L969.3,3259.7 L975.4,3259.0 L981.5,3258.4 L987.6,3257.8 L993.7,3257.3 L999.8,3256.7 L1005.8,3256.2 L1011.9,3255.7 L1018.0,3255.2 L1024.1,3254.7 L1030.2,3254.3 L1036.3,3253.9 L1042.3,3253.5 L1048.4,3253.1 L1054.5,3252.7 L1060.7,3252.3 L1067.2,3251.9 L1073.9,3251.4 L1080.9,3250.8 L1088.1,3250.2 L1095.6,3249.5 L1103.3,3248.8 L1111.3,3248.0 L1119.5,3247.1 L1128.0,3246.2 L1136.8,3245.2 L1145.8,3244.2 L1155.0,3243.1 L1164.5,3242.0 L1174.3,3240.7 L1184.3,3239.5 L1194.6,3238.1 L1205.1,3236.8 L1215.9,3235.3 L1226.9,3233.8 L1238.2,3232.2 L1249.7,3230.6 L1261.5,3228.9 L1273.5,3227.2 L1285.4,3225.4 L1296.8,3223.8 L1307.7,3222.2 L1318.1,3220.7 L1328.0,3219.2 L1337.4,3217.9 L1346.3,3216.6 L1354.6,3215.4 L1362.5,3214.2 L1369.8,3213.1 L1376.7,3212.2 L1383.0,3211.2 L1388.8,3210.4 L1394.2,3209.6 L1399.0,3208.9 L1403.3,3208.3 L1407.1,3207.7 L1410.4,3207.2 L1413.2,3206.8 L1415.5,3206.5 L1417.2,3206.2 L1418.5,3206.1 L1419.3,3205.9 L1419.5,3205.9" fill="none" stroke="#000000" stroke-width="18" stroke-linejoin="round" stroke-linecap="butt"/>
<path transform="scale(1.32,1)" d="M251.5,4110.0 L251.5,4110.0 L251.5,4110.0 L251.5,4109.9 L251.6,4109.8 L251.6,4109.6 L251.6,4109.4 L251.7,4109.0 L251.8,4108.5 L251.9,4107.9 L252.1,4107.1 L252.3,4106.1 L252.5,4105.0 L252.8,4103.6 L253.1,4102.0 L253.5,4100.2 L253.9,4098.1 L254.4,4095.7 L254.9,4093.0 L255.5,4090.0 L256.2,4086.7 L256.9,4083.0 L257.8,4079.0 L258.7,4074.6 L259.6,4069.8 L260.7,4064.5 L261.8,4058.9 L263.0,4052.9 L264.3,4046.6 L265.7,4040.0 L267.1,4033.1 L268.6,4026.0 L270.1,4018.7 L271.7,4011.2 L273.4,4003.5 L275.1,3995.8 L276.9,3987.9 L278.7,3980.0 L280.5,3972.1 L282.4,3964.2 L284.3,3956.3 L286.2,3948.5 L288.1,3940.7 L290.1,3933.1 L292.1,3925.7 L294.1,3918.4 L296.1,3911.4 L298.2,3904.6 L300.2,3898.1 L302.2,3891.9 L304.2,3885.9 L306.3,3880.3 L308.3,3874.9 L310.3,3869.8 L312.3,3864.9 L314.4,3860.2 L316.4,3855.7 L318.4,3851.4 L320.5,3847.3 L322.5,3843.4 L324.5,3839.6 L326.5,3835.9 L328.6,3832.3 L330.6,3828.9 L332.6,3825.5 L334.7,3822.3 L336.7,3819.1 L338.7,3815.9 L340.7,3812.8 L342.8,3809.7 L344.8,3806.6 L346.8,3803.5 L348.8,3800.4 L350.9,3797.2 L352.9,3794.0 L354.9,3790.8 L357.0,3787.5 L359.0,3784.2 L361.0,3780.8 L363.0,3777.4 L365.1,3774.0 L367.1,3770.5 L369.1,3767.0 L371.2,3763.5 L373.2,3759.9 L375.2,3756.3 L377.2,3752.7 L379.3,3749.2 L381.3,3745.7 L383.3,3742.2 L385.3,3738.9 L387.4,3735.6 L389.4,3732.3 L391.4,3729.2 L393.5,3726.1 L395.5,3723.1 L397.5,3720.1 L399.5,3717.2 L401.6,3714.4 L403.6,3711.7 L405.6,3709.0 L407.7,3706.4 L409.7,3703.8 L411.7,3701.3 L413.7,3698.9 L415.8,3696.5 L417.8,3694.2 L419.8,3692.0 L421.8,3689.9 L423.9,3687.7 L425.9,3685.3 L427.9,3682.8 L430.0,3680.2 L432.0,3677.3 L434.0,3674.4 L436.0,3671.3 L438.1,3668.0 L440.1,3664.6 L442.1,3661.1 L444.2,3657.4 L446.2,3653.5 L448.2,3649.5 L450.2,3645.3 L452.3,3641.0 L454.3,3636.6 L456.3,3632.0 L458.3,3627.2 L460.4,3622.3 L462.4,3617.2 L464.4,3612.0 L466.5,3606.6 L468.5,3601.1 L470.5,3595.5 L472.5,3589.8 L474.6,3584.2 L476.6,3578.7 L478.6,3573.3 L480.7,3567.9 L482.7,3562.7 L484.7,3557.6 L486.7,3552.6 L488.8,3547.6 L490.8,3542.8 L492.8,3538.0 L494.8,3533.4 L496.9,3528.8 L498.9,3524.3 L500.9,3520.0 L503.0,3515.7 L505.0,3511.5 L507.0,3507.4 L509.0,3503.4 L511.1,3499.5 L513.1,3495.7 L515.1,3492.0 L517.2,3488.4 L519.2,3484.8 L521.2,3481.4 L523.3,3478.0 L525.5,3474.7 L527.6,3471.5 L529.8,3468.4 L532.1,3465.3 L534.4,3462.3 L536.8,3459.3 L539.1,3456.5 L541.6,3453.7 L544.0,3451.0 L546.6,3448.4 L549.1,3445.8 L551.7,3443.3 L554.4,3440.9 L557.0,3438.5 L559.8,3436.2 L562.5,3434.0 L565.3,3431.9 L568.2,3429.9 L571.1,3427.9 L574.0,3426.0 L577.0,3424.1 L580.0,3422.4 L583.1,3420.6 L586.1,3418.9 L589.1,3417.1 L592.2,3415.3 L595.2,3413.5 L598.3,3411.7 L601.3,3409.8 L604.3,3408.0 L607.4,3406.1 L610.4,3404.2 L613.5,3402.3 L616.5,3400.4 L619.6,3398.4 L622.6,3396.4 L625.6,3394.5 L628.7,3392.5 L631.7,3390.4 L634.8,3388.4 L637.8,3386.4 L640.8,3384.3 L643.9,3382.2 L646.9,3380.1 L650.0,3378.0 L653.0,3375.8 L656.1,3373.7 L659.4,3371.4 L662.7,3369.2 L666.2,3366.8 L669.8,3364.5 L673.5,3362.0 L677.4,3359.6 L681.4,3357.0 L685.5,3354.5 L689.8,3351.8 L694.1,3349.2 L698.6,3346.4 L703.3,3343.7 L708.0,3340.8 L712.9,3338.0 L717.9,3335.1 L723.0,3332.1 L728.3,3329.1 L733.7,3326.0 L739.2,3322.9 L744.8,3319.7 L750.6,3316.5 L756.5,3313.2 L762.5,3309.9 L768.6,3306.6 L774.7,3303.3 L780.8,3300.2 L786.8,3297.1 L792.9,3294.1 L799.0,3291.2 L805.1,3288.4 L811.2,3285.6 L817.3,3282.9 L823.3,3280.3 L829.4,3277.8 L835.5,3275.4 L841.6,3273.0 L847.7,3270.7 L853.8,3268.5 L859.8,3266.4 L865.9,3264.3 L872.0,3262.4 L878.1,3260.5 L884.2,3258.7 L890.3,3256.9 L896.3,3255.3 L902.4,3253.7 L908.5,3252.2 L914.6,3250.7 L920.7,3249.3 L926.8,3247.9 L932.8,3246.5 L938.9,3245.1 L945.0,3243.7 L951.1,3242.4 L957.2,3241.1 L963.3,3239.8 L969.3,3238.5 L975.4,3237.2 L981.5,3236.0 L987.6,3234.7 L993.7,3233.5 L999.8,3232.3 L1005.8,3231.1 L1011.9,3230.0 L1018.0,3228.8 L1024.1,3227.7 L1030.2,3226.6 L1036.3,3225.5 L1042.3,3224.5 L1048.4,3223.4 L1054.5,3222.4 L1060.7,3221.4 L1067.2,3220.3 L1073.9,3219.2 L1080.9,3218.1 L1088.1,3216.9 L1095.6,3215.7 L1103.3,3214.4 L1111.3,3213.2 L1119.5,3211.9 L1128.0,3210.5 L1136.8,3209.2 L1145.8,3207.8 L1155.0,3206.3 L1164.5,3204.9 L1174.3,3203.4 L1184.3,3201.8 L1194.6,3200.3 L1205.1,3198.7 L1215.9,3197.0 L1226.9,3195.4 L1238.2,3193.7 L1249.7,3191.9 L1261.5,3190.2 L1273.5,3188.4 L1285.4,3186.6 L1296.8,3184.9 L1307.7,3183.2 L1318.1,3181.7 L1328.0,3180.2 L1337.4,3178.8 L1346.3,3177.5 L1354.6,3176.2 L1362.5,3175.1 L1369.8,3174.0 L1376.7,3173.0 L1383.0,3172.0 L1388.8,3171.1 L1394.2,3170.3 L1399.0,3169.6 L1403.3,3169.0 L1407.1,3168.4 L1410.4,3167.9 L1413.2,3167.5 L1415.5,3167.2 L1417.2,3166.9 L1418.5,3166.7 L1419.3,3166.6 L1419.5,3166.6" fill="none" stroke="#ff0000" stroke-width="18" stroke-linejoin="round" stroke-linecap="butt"/>
<path transform="scale(1.32,1)" d="M251.5,4110.0 L251.5,4110.0 L251.5,4110.0 L251.5,4109.9 L251.6,4109.8 L251.6,4109.6 L251.6,4109.3 L251.7,4108.8 L251.8,4108.3 L251.9,4107.5 L252.1,4106.6 L252.3,4105.5 L252.5,4104.1 L252.8,4102.6 L253.1,4100.7 L253.5,4098.6 L253.9,4096.1 L254.4,4093.4 L254.9,4090.3 L255.5,4086.8 L256.2,4082.9 L256.9,4078.6 L257.8,4074.0 L258.7,4068.8 L259.6,4063.2 L260.7,4057.1 L261.8,4050.6 L263.0,4043.6 L264.3,4036.3 L265.7,4028.7 L267.1,4020.7 L268.6,4012.6 L270.1,4004.2 L271.7,3995.6 L273.4,3986.9 L275.1,3978.1 L276.9,3969.3 L278.7,3960.4 L280.5,3951.6 L282.4,3942.9 L284.3,3934.2 L286.2,3925.7 L288.1,3917.4 L290.1,3909.3 L292.1,3901.4 L294.1,3893.9 L296.1,3886.7 L298.2,3879.9 L300.2,3873.5 L302.2,3867.6 L304.2,3862.1 L306.3,3857.0 L308.3,3852.3 L310.3,3847.9 L312.3,3843.9 L314.4,3840.1 L316.4,3836.6 L318.4,3833.4 L320.5,3830.4 L322.5,3827.5 L324.5,3824.9 L326.5,3822.3 L328.6,3819.9 L330.6,3817.5 L332.6,3815.2 L334.7,3813.0 L336.7,3810.8 L338.7,3808.6 L340.7,3806.3 L342.8,3803.9 L344.8,3801.5 L346.8,3798.9 L348.8,3796.1 L350.9,3793.1 L352.9,3789.9 L354.9,3786.6 L357.0,3783.1 L359.0,3779.4 L361.0,3775.5 L363.0,3771.5 L365.1,3767.2 L367.1,3762.8 L369.1,3758.2 L371.2,3753.3 L373.2,3748.2 L375.2,3743.0 L377.2,3737.9 L379.3,3732.9 L381.3,3728.0 L383.3,3723.1 L385.3,3718.5 L387.4,3713.9 L389.4,3709.5 L391.4,3705.3 L393.5,3701.3 L395.5,3697.4 L397.5,3693.7 L399.5,3690.2 L401.6,3686.8 L403.6,3683.6 L405.6,3680.5 L407.7,3677.6 L409.7,3674.9 L411.7,3672.3 L413.7,3669.8 L415.8,3667.6 L417.8,3665.4 L419.8,3663.5 L421.8,3661.7 L423.9,3659.9 L425.9,3657.9 L427.9,3655.7 L430.0,3653.4 L432.0,3650.9 L434.0,3648.2 L436.0,3645.4 L438.1,3642.4 L440.1,3639.2 L442.1,3635.9 L444.2,3632.4 L446.2,3628.7 L448.2,3624.9 L450.2,3620.8 L452.3,3616.6 L454.3,3612.3 L456.3,3607.7 L458.3,3603.0 L460.4,3598.2 L462.4,3593.1 L464.4,3587.9 L466.5,3582.5 L468.5,3577.0 L470.5,3571.3 L472.5,3565.5 L474.6,3559.9 L476.6,3554.4 L478.6,3549.0 L480.7,3543.8 L482.7,3538.7 L484.7,3533.7 L486.7,3528.8 L488.8,3524.0 L490.8,3519.4 L492.8,3514.9 L494.8,3510.5 L496.9,3506.2 L498.9,3502.1 L500.9,3498.1 L503.0,3494.2 L505.0,3490.4 L507.0,3486.8 L509.0,3483.3 L511.1,3479.9 L513.1,3476.6 L515.1,3473.5 L517.2,3470.5 L519.2,3467.6 L521.2,3464.7 L523.3,3461.9 L525.5,3459.1 L527.6,3456.3 L529.8,3453.5 L532.1,3450.6 L534.4,3447.8 L536.8,3445.1 L539.1,3442.3 L541.6,3439.5 L544.0,3436.7 L546.6,3433.9 L549.1,3431.2 L551.7,3428.4 L554.4,3425.6 L557.0,3422.9 L559.8,3420.1 L562.5,3417.4 L565.3,3414.7 L568.2,3411.9 L571.1,3409.2 L574.0,3406.5 L577.0,3403.8 L580.0,3401.1 L583.1,3398.3 L586.1,3395.5 L589.1,3392.7 L592.2,3389.7 L595.2,3386.7 L598.3,3383.6 L601.3,3380.4 L604.3,3377.2 L607.4,3373.9 L610.4,3370.5 L613.5,3367.1 L616.5,3363.6 L619.6,3360.0 L622.6,3356.4 L625.6,3352.6 L628.7,3348.9 L631.7,3345.0 L634.8,3341.1 L637.8,3337.1 L640.8,3333.0 L643.9,3328.8 L646.9,3324.6 L650.0,3320.3 L653.0,3316.0 L656.1,3311.7 L659.4,3307.5 L662.7,3303.5 L666.2,3299.7 L669.8,3296.0 L673.5,3292.4 L677.4,3289.0 L681.4,3285.8 L685.5,3282.7 L689.8,3279.8 L694.1,3277.0 L698.6,3274.4 L703.3,3271.9 L708.0,3269.6 L712.9,3267.4 L717.9,3265.4 L723.0,3263.6 L728.3,3261.8 L733.7,3260.3 L739.2,3258.9 L744.8,3257.7 L750.6,3256.6 L756.5,3255.6 L762.5,3254.8 L768.6,3254.1 L774.7,3253.4 L780.8,3252.6 L786.8,3251.8 L792.9,3250.9 L799.0,3250.0 L805.1,3249.1 L811.2,3248.2 L817.3,3247.3 L823.3,3246.3 L829.4,3245.2 L835.5,3244.2 L841.6,3243.1 L847.7,3242.0 L853.8,3240.9 L859.8,3239.7 L865.9,3238.5 L872.0,3237.3 L878.1,3236.0 L884.2,3234.7 L890.3,3233.4 L896.3,3232.1 L902.4,3230.7 L908.5,3229.3 L914.6,3227.9 L920.7,3226.4 L926.8,3225.0 L932.8,3223.5 L938.9,3222.0 L945.0,3220.4 L951.1,3218.9 L957.2,3217.3 L963.3,3215.7 L969.3,3214.1 L975.4,3212.5 L981.5,3210.8 L987.6,3209.2 L993.7,3207.5 L999.8,3205.8 L1005.8,3204.0 L1011.9,3202.3 L1018.0,3200.5 L1024.1,3198.7 L1030.2,3196.9 L1036.3,3195.0 L1042.3,3193.2 L1048.4,3191.3 L1054.5,3189.4 L1060.7,3187.5 L1067.2,3185.6 L1073.9,3183.7 L1080.9,3181.8 L1088.1,3179.9 L1095.6,3177.9 L1103.3,3176.0 L1111.3,3174.1 L1119.5,3172.2 L1128.0,3170.2 L1136.8,3168.3 L1145.8,3166.4 L1155.0,3164.4 L1164.5,3162.5 L1174.3,3160.5 L1184.3,3158.6 L1194.6,3156.6 L1205.1,3154.7 L1215.9,3152.7 L1226.9,3150.8 L1238.2,3148.8 L1249.7,3146.8 L1261.5,3144.9 L1273.5,3142.9 L1285.4,3141.0 L1296.8,3139.1 L1307.7,3137.3 L1318.1,3135.7 L1328.0,3134.1 L1337.4,3132.5 L1346.3,3131.1 L1354.6,3129.7 L1362.5,3128.5 L1369.8,3127.3 L1376.7,3126.2 L1383.0,3125.1 L1388.8,3124.2 L1394.2,3123.3 L1399.0,3122.6 L1403.3,3121.9 L1407.1,3121.2 L1410.4,3120.7 L1413.2,3120.2 L1415.5,3119.9 L1417.2,3119.6 L1418.5,3119.4 L1419.3,3119.3 L1419.5,3119.2" fill="none" stroke="#0000ff" stroke-width="18" stroke-linejoin="round" stroke-linecap="butt"/>
<path transform="scale(1.32,1)" d="M251.5,4110.0 L251.5,4110.0 L251.5,4110.0 L251.5,4109.9 L251.6,4109.8 L251.6,4109.5 L251.6,4109.2 L251.7,4108.7 L251.8,4108.0 L251.9,4107.2 L252.1,4106.1 L252.3,4104.9 L252.5,4103.3 L252.8,4101.5 L253.1,4099.4 L253.5,4097.0 L253.9,4094.2 L254.4,4091.0 L254.9,4087.5 L255.5,4083.5 L256.2,4079.1 L256.9,4074.3 L257.8,4068.9 L258.7,4063.0 L259.6,4056.6 L260.7,4049.7 L261.8,4042.2 L263.0,4034.3 L264.3,4026.0 L265.7,4017.2 L267.1,4008.2 L268.6,3998.8 L270.1,3989.2 L271.7,3979.3 L273.4,3969.3 L275.1,3959.2 L276.9,3949.0 L278.7,3938.7 L280.5,3928.5 L282.4,3918.3 L284.3,3908.2 L286.2,3898.2 L288.1,3888.4 L290.1,3878.8 L292.1,3869.5 L294.1,3860.5 L296.1,3851.9 L298.2,3843.6 L300.2,3835.8 L302.2,3828.4 L304.2,3821.5 L306.3,3815.0 L308.3,3808.9 L310.3,3803.3 L312.3,3798.0 L314.4,3793.0 L316.4,3788.3 L318.4,3784.0 L320.5,3779.9 L322.5,3776.1 L324.5,3772.5 L326.5,3769.1 L328.6,3765.9 L330.6,3762.9 L332.6,3760.0 L334.7,3757.2 L336.7,3754.6 L338.7,3752.0 L340.7,3749.5 L342.8,3747.0 L344.8,3744.6 L346.8,3742.1 L348.8,3739.5 L350.9,3736.9 L352.9,3734.3 L354.9,3731.6 L357.0,3728.8 L359.0,3726.0 L361.0,3723.2 L363.0,3720.2 L365.1,3717.3 L367.1,3714.2 L369.1,3711.1 L371.2,3707.9 L373.2,3704.7 L375.2,3701.4 L377.2,3698.2 L379.3,3694.9 L381.3,3691.7 L383.3,3688.6 L385.3,3685.4 L387.4,3682.4 L389.4,3679.3 L391.4,3676.3 L393.5,3673.4 L395.5,3670.5 L397.5,3667.7 L399.5,3664.9 L401.6,3662.1 L403.6,3659.4 L405.6,3656.8 L407.7,3654.2 L409.7,3651.6 L411.7,3649.1 L413.7,3646.6 L415.8,3644.2 L417.8,3641.8 L419.8,3639.5 L421.8,3637.2 L423.9,3634.9 L425.9,3632.4 L427.9,3629.7 L430.0,3626.9 L432.0,3624.0 L434.0,3620.9 L436.0,3617.6 L438.1,3614.2 L440.1,3610.6 L442.1,3606.9 L444.2,3603.0 L446.2,3598.9 L448.2,3594.7 L450.2,3590.4 L452.3,3585.9 L454.3,3581.2 L456.3,3576.4 L458.3,3571.4 L460.4,3566.3 L462.4,3561.0 L464.4,3555.5 L466.5,3550.0 L468.5,3544.2 L470.5,3538.3 L472.5,3532.4 L474.6,3526.6 L476.6,3521.0 L478.6,3515.5 L480.7,3510.2 L482.7,3505.1 L484.7,3500.0 L486.7,3495.2 L488.8,3490.4 L490.8,3485.9 L492.8,3481.4 L494.8,3477.1 L496.9,3473.0 L498.9,3469.0 L500.9,3465.2 L503.0,3461.5 L505.0,3457.9 L507.0,3454.5 L509.0,3451.3 L511.1,3448.2 L513.1,3445.2 L515.1,3442.4 L517.2,3439.8 L519.2,3437.2 L521.2,3434.8 L523.3,3432.4 L525.5,3429.9 L527.6,3427.5 L529.8,3425.0 L532.1,3422.6 L534.4,3420.1 L536.8,3417.7 L539.1,3415.2 L541.6,3412.8 L544.0,3410.3 L546.6,3407.9 L549.1,3405.4 L551.7,3402.9 L554.4,3400.5 L557.0,3398.0 L559.8,3395.5 L562.5,3393.1 L565.3,3390.6 L568.2,3388.1 L571.1,3385.7 L574.0,3383.2 L577.0,3380.7 L580.0,3378.2 L583.1,3375.8 L586.1,3373.3 L589.1,3370.9 L592.2,3368.5 L595.2,3366.2 L598.3,3363.9 L601.3,3361.6 L604.3,3359.4 L607.4,3357.2 L610.4,3355.0 L613.5,3352.8 L616.5,3350.7 L619.6,3348.6 L622.6,3346.5 L625.6,3344.5 L628.7,3342.5 L631.7,3340.6 L634.8,3338.6 L637.8,3336.7 L640.8,3334.9 L643.9,3333.0 L646.9,3331.2 L650.0,3329.4 L653.0,3327.7 L656.1,3325.9 L659.4,3324.1 L662.7,3322.2 L666.2,3320.3 L669.8,3318.2 L673.5,3316.2 L677.4,3314.0 L681.4,3311.8 L685.5,3309.5 L689.8,3307.2 L694.1,3304.8 L698.6,3302.3 L703.3,3299.8 L708.0,3297.2 L712.9,3294.5 L717.9,3291.8 L723.0,3289.0 L728.3,3286.1 L733.7,3283.2 L739.2,3280.2 L744.8,3277.1 L750.6,3274.0 L756.5,3270.8 L762.5,3267.6 L768.6,3264.3 L774.7,3261.1 L780.8,3257.9 L786.8,3254.8 L792.9,3251.7 L799.0,3248.6 L805.1,3245.5 L811.2,3242.5 L817.3,3239.5 L823.3,3236.6 L829.4,3233.7 L835.5,3230.8 L841.6,3228.0 L847.7,3225.2 L853.8,3222.5 L859.8,3219.7 L865.9,3217.1 L872.0,3214.4 L878.1,3211.8 L884.2,3209.2 L890.3,3206.7 L896.3,3204.2 L902.4,3201.7 L908.5,3199.3 L914.6,3196.8 L920.7,3194.4 L926.8,3192.0 L932.8,3189.5 L938.9,3187.1 L945.0,3184.6 L951.1,3182.1 L957.2,3179.6 L963.3,3177.1 L969.3,3174.6 L975.4,3172.1 L981.5,3169.6 L987.6,3167.1 L993.7,3164.5 L999.8,3162.0 L1005.8,3159.4 L1011.9,3156.9 L1018.0,3154.3 L1024.1,3151.7 L1030.2,3149.1 L1036.3,3146.5 L1042.3,3143.9 L1048.4,3141.3 L1054.5,3138.6 L1060.7,3136.0 L1067.2,3133.4 L1073.9,3130.9 L1080.9,3128.4 L1088.1,3126.0 L1095.6,3123.6 L1103.3,3121.2 L1111.3,3118.9 L1119.5,3116.7 L1128.0,3114.4 L1136.8,3112.3 L1145.8,3110.1 L1155.0,3108.0 L1164.5,3106.0 L1174.3,3104.0 L1184.3,3102.0 L1194.6,3100.1 L1205.1,3098.2 L1215.9,3096.4 L1226.9,3094.6 L1238.2,3092.8 L1249.7,3091.1 L1261.5,3089.5 L1273.5,3087.8 L1285.4,3086.3 L1296.8,3084.8 L1307.7,3083.4 L1318.1,3082.0 L1328.0,3080.7 L1337.4,3079.5 L1346.3,3078.3 L1354.6,3077.2 L1362.5,3076.2 L1369.8,3075.2 L1376.7,3074.3 L1383.0,3073.5 L1388.8,3072.7 L1394.2,3072.0 L1399.0,3071.4 L1403.3,3070.8 L1407.1,3070.3 L1410.4,3069.9 L1413.2,3069.5 L1415.5,3069.2 L1417.2,3069.0 L1418.5,3068.8 L1419.3,3068.7 L1419.5,3068.7" fill="none" stroke="#008c00" stroke-width="18" stroke-linejoin="round" stroke-linecap="butt"/>
<path transform="scale(1.32,1)" d="M251.5,4110.0 L251.5,4110.0 L251.5,4110.0 L251.5,4109.9 L251.6,4109.7 L251.6,4109.5 L251.6,4109.1 L251.7,4108.6 L251.8,4107.9 L251.9,4107.0 L252.1,4105.9 L252.3,4104.5 L252.5,4102.9 L252.8,4101.0 L253.1,4098.7 L253.5,4096.1 L253.9,4093.1 L254.4,4089.8 L254.9,4086.0 L255.5,4081.8 L256.2,4077.1 L256.9,4071.9 L257.8,4066.2 L258.7,4059.9 L259.6,4053.1 L260.7,4045.7 L261.8,4037.7 L263.0,4029.3 L264.3,4020.4 L265.7,4011.0 L267.1,4001.3 L268.6,3991.3 L270.1,3981.0 L271.7,3970.4 L273.4,3959.6 L275.1,3948.7 L276.9,3937.7 L278.7,3926.6 L280.5,3915.5 L282.4,3904.4 L284.3,3893.4 L286.2,3882.5 L288.1,3871.7 L290.1,3861.1 L292.1,3850.8 L294.1,3840.8 L296.1,3831.1 L298.2,3821.7 L300.2,3812.8 L302.2,3804.3 L304.2,3796.3 L306.3,3788.7 L308.3,3781.5 L310.3,3774.7 L312.3,3768.2 L314.4,3762.1 L316.4,3756.3 L318.4,3750.8 L320.5,3745.6 L322.5,3740.6 L324.5,3735.9 L326.5,3731.4 L328.6,3727.1 L330.6,3723.0 L332.6,3719.0 L334.7,3715.2 L336.7,3711.6 L338.7,3708.0 L340.7,3704.6 L342.8,3701.2 L344.8,3697.8 L346.8,3694.5 L348.8,3691.1 L350.9,3687.8 L352.9,3684.4 L354.9,3681.0 L357.0,3677.6 L359.0,3674.2 L361.0,3670.8 L363.0,3667.4 L365.1,3663.9 L367.1,3660.5 L369.1,3657.0 L371.2,3653.5 L373.2,3650.0 L375.2,3646.5 L377.2,3642.9 L379.3,3639.4 L381.3,3635.9 L383.3,3632.4 L385.3,3629.0 L387.4,3625.5 L389.4,3622.1 L391.4,3618.6 L393.5,3615.2 L395.5,3611.8 L397.5,3608.4 L399.5,3605.1 L401.6,3601.7 L403.6,3598.4 L405.6,3595.0 L407.7,3591.7 L409.7,3588.4 L411.7,3585.1 L413.7,3581.8 L415.8,3578.6 L417.8,3575.3 L419.8,3572.1 L421.8,3568.9 L423.9,3565.6 L425.9,3562.2 L427.9,3558.6 L430.0,3554.8 L432.0,3551.0 L434.0,3546.9 L436.0,3542.7 L438.1,3538.4 L440.1,3533.9 L442.1,3529.3 L444.2,3524.5 L446.2,3519.6 L448.2,3514.5 L450.2,3509.3 L452.3,3504.0 L454.3,3498.4 L456.3,3492.8 L458.3,3487.0 L460.4,3481.0 L462.4,3474.9 L464.4,3468.6 L466.5,3462.2 L468.5,3455.7 L470.5,3448.9 L472.5,3442.3 L474.6,3435.8 L476.6,3429.6 L478.6,3423.6 L480.7,3417.8 L482.7,3412.2 L484.7,3406.8 L486.7,3401.7 L488.8,3396.7 L490.8,3392.0 L492.8,3387.5 L494.8,3383.3 L496.9,3379.2 L498.9,3375.4 L500.9,3371.8 L503.0,3368.3 L505.0,3365.2 L507.0,3362.2 L509.0,3359.4 L511.1,3356.9 L513.1,3354.6 L515.1,3352.5 L517.2,3350.6 L519.2,3349.0 L521.2,3347.4 L523.3,3345.9 L525.5,3344.4 L527.6,3343.0 L529.8,3341.5 L532.1,3340.1 L534.4,3338.7 L536.8,3337.3 L539.1,3336.0 L541.6,3334.7 L544.0,3333.4 L546.6,3332.1 L549.1,3330.8 L551.7,3329.6 L554.4,3328.4 L557.0,3327.2 L559.8,3326.1 L562.5,3324.9 L565.3,3323.8 L568.2,3322.7 L571.1,3321.7 L574.0,3320.7 L577.0,3319.6 L580.0,3318.7 L583.1,3317.7 L586.1,3316.7 L589.1,3315.7 L592.2,3314.8 L595.2,3313.8 L598.3,3312.9 L601.3,3311.9 L604.3,3311.0 L607.4,3310.0 L610.4,3309.1 L613.5,3308.2 L616.5,3307.2 L619.6,3306.3 L622.6,3305.4 L625.6,3304.4 L628.7,3303.5 L631.7,3302.6 L634.8,3301.7 L637.8,3300.8 L640.8,3299.9 L643.9,3299.0 L646.9,3298.1 L650.0,3297.2 L653.0,3296.3 L656.1,3295.4 L659.4,3294.4 L662.7,3293.4 L666.2,3292.3 L669.8,3291.1 L673.5,3289.9 L677.4,3288.6 L681.4,3287.2 L685.5,3285.8 L689.8,3284.4 L694.1,3282.8 L698.6,3281.2 L703.3,3279.6 L708.0,3277.8 L712.9,3276.1 L717.9,3274.2 L723.0,3272.3 L728.3,3270.3 L733.7,3268.3 L739.2,3266.2 L744.8,3264.1 L750.6,3261.8 L756.5,3259.6 L762.5,3257.2 L768.6,3254.8 L774.7,3252.3 L780.8,3249.8 L786.8,3247.1 L792.9,3244.4 L799.0,3241.6 L805.1,3238.7 L811.2,3235.8 L817.3,3232.7 L823.3,3229.6 L829.4,3226.4 L835.5,3223.1 L841.6,3219.8 L847.7,3216.3 L853.8,3212.8 L859.8,3209.2 L865.9,3205.6 L872.0,3201.8 L878.1,3198.0 L884.2,3194.1 L890.3,3190.1 L896.3,3186.1 L902.4,3181.9 L908.5,3177.7 L914.6,3173.5 L920.7,3169.4 L926.8,3165.5 L932.8,3161.6 L938.9,3157.8 L945.0,3154.2 L951.1,3150.6 L957.2,3147.2 L963.3,3143.9 L969.3,3140.7 L975.4,3137.6 L981.5,3134.6 L987.6,3131.7 L993.7,3128.9 L999.8,3126.3 L1005.8,3123.7 L1011.9,3121.3 L1018.0,3118.9 L1024.1,3116.7 L1030.2,3114.6 L1036.3,3112.6 L1042.3,3110.7 L1048.4,3108.9 L1054.5,3107.3 L1060.7,3105.6 L1067.2,3104.1 L1073.9,3102.5 L1080.9,3101.0 L1088.1,3099.4 L1095.6,3097.9 L1103.3,3096.5 L1111.3,3095.0 L1119.5,3093.6 L1128.0,3092.1 L1136.8,3090.7 L1145.8,3089.4 L1155.0,3088.0 L1164.5,3086.7 L1174.3,3085.4 L1184.3,3084.1 L1194.6,3082.8 L1205.1,3081.6 L1215.9,3080.4 L1226.9,3079.2 L1238.2,3078.0 L1249.7,3076.8 L1261.5,3075.7 L1273.5,3074.6 L1285.4,3073.5 L1296.8,3072.4 L1307.7,3071.4 L1318.1,3070.5 L1328.0,3069.6 L1337.4,3068.7 L1346.3,3067.9 L1354.6,3067.2 L1362.5,3066.4 L1369.8,3065.8 L1376.7,3065.2 L1383.0,3064.6 L1388.8,3064.0 L1394.2,3063.6 L1399.0,3063.1 L1403.3,3062.7 L1407.1,3062.4 L1410.4,3062.1 L1413.2,3061.8 L1415.5,3061.6 L1417.2,3061.5 L1418.5,3061.3 L1419.3,3061.3 L1419.5,3061.3" fill="none" stroke="#e040ff" stroke-width="18" stroke-linejoin="round" stroke-linecap="butt"/>
<path d="M396.2,3936.6V3953.6M460.5,3824.9V3842.0M524.7,3725.0V3742.0M589.0,3665.4V3686.7M653.2,3556.4V3577.7M717.4,3452.7V3486.7M813.8,3395.8V3428.7M910.2,3358.0V3372.9M1102.9,3268.7V3285.7M1295.6,3244.2V3269.7M1488.3,3236.0V3260.9M1873.8,3192.5V3219.3" stroke="#8c8c8c" stroke-width="8" fill="none"/>
<path d="M377.2,3936.6H415.2M377.2,3953.6H415.2M441.5,3824.9H479.5M441.5,3842.0H479.5M505.7,3725.0H543.7M505.7,3742.0H543.7M570.0,3665.4H608.0M570.0,3686.7H608.0M634.2,3556.4H672.2M634.2,3577.7H672.2M698.4,3452.7H736.4M698.4,3486.7H736.4M794.8,3395.8H832.8M794.8,3428.7H832.8M891.2,3358.0H929.2M891.2,3372.9H929.2M1083.9,3268.7H1121.9M1083.9,3285.7H1121.9M1276.6,3244.2H1314.6M1276.6,3269.7H1314.6M1469.3,3236.0H1507.3M1469.3,3260.9H1507.3M1854.8,3192.5H1892.8M1854.8,3219.3H1892.8" stroke="#8c8c8c" stroke-width="8" fill="none" stroke-linecap="round"/>
<path d="M396.2,3858.2V3878.9M460.5,3795.7V3812.7M524.7,3710.1V3720.7M589.0,3656.9V3671.8M653.2,3519.2V3534.0M717.4,3435.7V3450.5M813.8,3392.0V3411.2M910.2,3339.7V3360.3M1102.9,3257.3V3282.2M1295.6,3227.2V3242.1M1488.3,3202.9V3217.4M1873.8,3155.2V3177.9" stroke="#900000" stroke-width="8" fill="none"/>
<path d="M377.2,3858.2H415.2M377.2,3878.9H415.2M441.5,3795.7H479.5M441.5,3812.7H479.5M505.7,3710.1H543.7M505.7,3720.7H543.7M570.0,3656.9H608.0M570.0,3671.8H608.0M634.2,3519.2H672.2M634.2,3534.0H672.2M698.4,3435.7H736.4M698.4,3450.5H736.4M794.8,3392.0H832.8M794.8,3411.2H832.8M891.2,3339.7H929.2M891.2,3360.3H929.2M1083.9,3257.3H1121.9M1083.9,3282.2H1121.9M1276.6,3227.2H1314.6M1276.6,3242.1H1314.6M1469.3,3202.9H1507.3M1469.3,3217.4H1507.3M1854.8,3155.2H1892.8M1854.8,3177.9H1892.8" stroke="#900000" stroke-width="8" fill="none" stroke-linecap="round"/>
<path d="M396.2,3819.3V3839.1M460.5,3804.7V3823.9M524.7,3673.9V3690.9M589.0,3631.4V3650.5M653.2,3490.2V3513.0M717.4,3426.3V3440.8M813.8,3354.2V3383.1M910.2,3246.9V3279.8M1102.9,3237.8V3254.8M1295.6,3200.9V3223.7M1488.3,3155.2V3177.9M1873.8,3107.8V3130.6" stroke="#000090" stroke-width="8" fill="none"/>
<path d="M377.2,3819.3H415.2M377.2,3839.1H415.2M441.5,3804.7H479.5M441.5,3823.9H479.5M505.7,3673.9H543.7M505.7,3690.9H543.7M570.0,3631.4H608.0M570.0,3650.5H608.0M634.2,3490.2H672.2M634.2,3513.0H672.2M698.4,3426.3H736.4M698.4,3440.8H736.4M794.8,3354.2H832.8M794.8,3383.1H832.8M891.2,3246.9H929.2M891.2,3279.8H929.2M1083.9,3237.8H1121.9M1083.9,3254.8H1121.9M1276.6,3200.9H1314.6M1276.6,3223.7H1314.6M1469.3,3155.2H1507.3M1469.3,3177.9H1507.3M1854.8,3107.8H1892.8M1854.8,3130.6H1892.8" stroke="#000090" stroke-width="8" fill="none" stroke-linecap="round"/>
<path d="M396.2,3775.4V3804.3M460.5,3742.0V3748.4M524.7,3647.3V3681.4M589.0,3597.6V3622.5M653.2,3453.1V3479.9M717.4,3397.7V3418.3M813.8,3328.2V3368.6M910.2,3299.5V3314.4M1102.9,3210.2V3246.3M1295.6,3160.0V3180.6M1488.3,3091.5V3122.5M1873.8,3060.4V3077.0" stroke="#00ff00" stroke-width="8" fill="none"/>
<path d="M377.2,3775.4H415.2M377.2,3804.3H415.2M441.5,3742.0H479.5M441.5,3748.4H479.5M505.7,3647.3H543.7M505.7,3681.4H543.7M570.0,3597.6H608.0M570.0,3622.5H608.0M634.2,3453.1H672.2M634.2,3479.9H672.2M698.4,3397.7H736.4M698.4,3418.3H736.4M794.8,3328.2H832.8M794.8,3368.6H832.8M891.2,3299.5H929.2M891.2,3314.4H929.2M1083.9,3210.2H1121.9M1083.9,3246.3H1121.9M1276.6,3160.0H1314.6M1276.6,3180.6H1314.6M1469.3,3091.5H1507.3M1469.3,3122.5H1507.3M1854.8,3060.4H1892.8M1854.8,3077.0H1892.8" stroke="#00ff00" stroke-width="8" fill="none" stroke-linecap="round"/>
<path d="M396.2,3752.1V3785.1M460.5,3680.9V3704.1M524.7,3591.5V3623.4M589.0,3519.4V3541.3M653.2,3354.2V3381.0M717.4,3323.1V3337.6M813.8,3297.1V3316.8M910.2,3277.4V3294.0M1102.9,3221.5V3236.0M1295.6,3114.2V3139.1M1488.3,3075.4V3100.3M1873.8,3051.7V3070.8" stroke="#800090" stroke-width="8" fill="none"/>
<path d="M377.2,3752.1H415.2M377.2,3785.1H415.2M441.5,3680.9H479.5M441.5,3704.1H479.5M505.7,3591.5H543.7M505.7,3623.4H543.7M570.0,3519.4H608.0M570.0,3541.3H608.0M634.2,3354.2H672.2M634.2,3381.0H672.2M698.4,3323.1H736.4M698.4,3337.6H736.4M794.8,3297.1H832.8M794.8,3316.8H832.8M891.2,3277.4H929.2M891.2,3294.0H929.2M1083.9,3221.5H1121.9M1083.9,3236.0H1121.9M1276.6,3114.2H1314.6M1276.6,3139.1H1314.6M1469.3,3075.4H1507.3M1469.3,3100.3H1507.3M1854.8,3051.7H1892.8M1854.8,3070.8H1892.8" stroke="#800090" stroke-width="8" fill="none" stroke-linecap="round"/>
</g>
<path d="M332,2940H1938V4132" fill="none" stroke="#303030" stroke-width="4"/>
<path d="M305,4110H1942" fill="none" stroke="#000" stroke-width="6.5"/>
<path d="M317.5,2939H332M305,4110.0H332M305,3897.3H332M305,3684.5H332M305,3471.8H332M305,3259.1H332M305,3046.4H332" fill="none" stroke="#000" stroke-width="6.5"/>
<path d="M318,4003.6H332M318,3790.9H332M318,3578.2H332M318,3365.5H332M318,3152.7H332" fill="none" stroke="#000" stroke-width="6"/>
<path d="M332.0,4110V4133M653.2,4110V4133M974.4,4110V4133M1295.6,4110V4133M1616.8,4110V4133M1938.0,4110V4133M492.6,4110V4122M813.8,4110V4122M1135.0,4110V4122M1456.2,4110V4122M1777.4,4110V4122" fill="none" stroke="#222" stroke-width="4"/>
<text transform="translate(245.02,4132.00) scale(1.0000,1)" font-size="80.00" font-weight="bold" fill="#000">0</text>
<text transform="translate(200.54,3919.27) scale(1.0000,1)" font-size="80.00" font-weight="bold" fill="#000">20</text>
<text transform="translate(200.54,3706.55) scale(1.0000,1)" font-size="80.00" font-weight="bold" fill="#000">40</text>
<text transform="translate(200.54,3493.82) scale(1.0000,1)" font-size="80.00" font-weight="bold" fill="#000">60</text>
<text transform="translate(200.54,3281.09) scale(1.0000,1)" font-size="80.00" font-weight="bold" fill="#000">80</text>
<text transform="translate(156.06,3068.36) scale(1.0000,1)" font-size="80.00" font-weight="bold" fill="#000">100</text>
<text transform="translate(310.19,4207.80) scale(1.0350,1)" font-size="81.00" font-weight="bold" fill="#000">0</text>
<text transform="translate(608.09,4207.80) scale(1.0350,1)" font-size="81.00" font-weight="bold" fill="#000">50</text>
<text transform="translate(905.98,4207.80) scale(1.0350,1)" font-size="81.00" font-weight="bold" fill="#000">100</text>
<text transform="translate(1227.18,4207.80) scale(1.0350,1)" font-size="81.00" font-weight="bold" fill="#000">150</text>
<text transform="translate(1548.38,4207.80) scale(1.0350,1)" font-size="81.00" font-weight="bold" fill="#000">200</text>
<text transform="translate(1869.58,4207.80) scale(1.0350,1)" font-size="81.00" font-weight="bold" fill="#000">250</text>
<text transform="translate(361.50,3090.00) scale(1.0094,1)" font-size="135.61" font-weight="bold" fill="#000">(C)</text>
<text transform="translate(1264.20,3419.50) scale(1.0244,1)" font-size="101.74" font-weight="bold" fill="#000">Ag[EE]-NPs</text>
<text transform="translate(919.50,4335.40) scale(1.0442,1)" font-size="119.48" font-weight="bold" fill="#000">Time (min)</text>
<text transform="translate(145.70,4011.00) rotate(-90) scale(0.8667,1)" font-size="135.76" font-weight="bold" fill="#000">Dye Removal %</text>
<path d="M1280,3508.3H1485" stroke="#000000" stroke-width="18" stroke-linecap="round" fill="none"/>
<text transform="translate(1506.00,3538.50) scale(1.0421,1)" font-size="89.11" font-weight="normal" fill="#000">0.10 mg</text>
<path d="M1280,3616.5H1485" stroke="#ff0000" stroke-width="18" stroke-linecap="round" fill="none"/>
<text transform="translate(1506.00,3646.70) scale(1.0421,1)" font-size="89.11" font-weight="normal" fill="#000">0.25 mg</text>
<path d="M1280,3724.7H1485" stroke="#0000ff" stroke-width="18" stroke-linecap="round" fill="none"/>
<text transform="translate(1506.00,3754.90) scale(1.0421,1)" font-size="89.11" font-weight="normal" fill="#000">0.50 mg</text>
<path d="M1280,3832.9H1485" stroke="#008c00" stroke-width="18" stroke-linecap="round" fill="none"/>
<text transform="translate(1506.00,3863.10) scale(1.0421,1)" font-size="89.11" font-weight="normal" fill="#000">0.75 mg</text>
<path d="M1280,3941.2H1485" stroke="#e040ff" stroke-width="18" stroke-linecap="round" fill="none"/>
<text transform="translate(1506.00,3971.40) scale(1.0421,1)" font-size="89.11" font-weight="normal" fill="#000">1.00 mg</text>
<text transform="translate(1256.00,4079.00) scale(1.0547,1)" font-size="87.59" font-weight="normal" fill="#000">Methylene blue</text>
</g>
</g>
</svg>
</body>
</html>
